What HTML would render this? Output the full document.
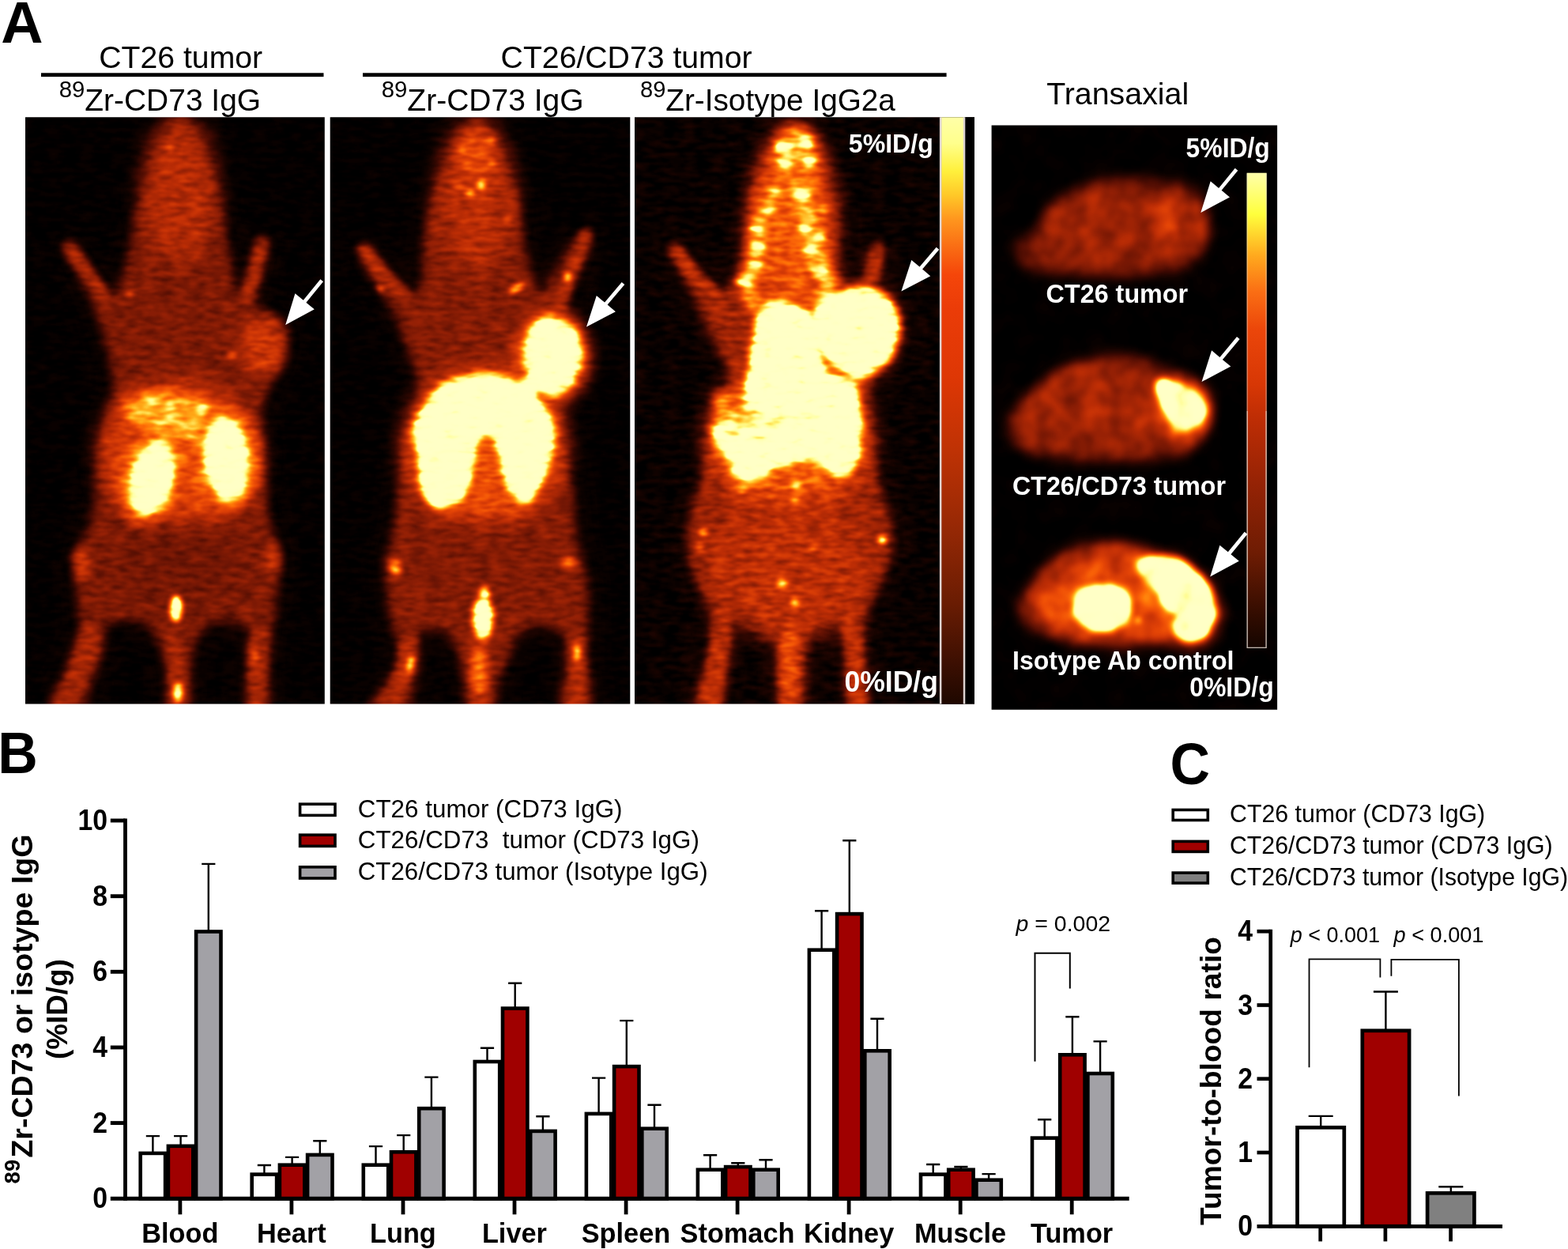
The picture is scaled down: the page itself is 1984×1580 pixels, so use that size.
<!DOCTYPE html>
<html lang="en">
<head>
<meta charset="utf-8">
<title>Figure: 89Zr-CD73 IgG PET imaging and biodistribution</title>
<style>
html,body{margin:0;padding:0;background:#fff;}
body{width:1984px;height:1580px;overflow:hidden;}
svg{display:block;font-family:"Liberation Sans", Arial, Helvetica, sans-serif;}
</style>
</head>
<body>
<svg width="1984" height="1580" viewBox="0 0 1984 1580">
<defs>
<filter id="pet1" x="0" y="0" width="100%" height="100%" color-interpolation-filters="sRGB">
<feTurbulence type="fractalNoise" baseFrequency="0.05 0.16" numOctaves="2" seed="3" result="n"/>
<feColorMatrix in="n" type="matrix" values="1 0 0 0 0 1 0 0 0 0 1 0 0 0 0 0 0 0 0 1" result="ng"/>
<feComposite in="SourceGraphic" in2="ng" operator="arithmetic" k1="0.7" k2="0.65" k3="0.05" k4="-0.02" result="m0"/>
<feGaussianBlur in="m0" stdDeviation="1.3 0.9" result="m"/>
<feComponentTransfer in="m"><feFuncR type="table" tableValues="0 0.113 0.225 0.335 0.443 0.548 0.64 0.732 0.807 0.877 0.937 0.978 1 1 1 1 1 1 1 1 1 1 1 1 1"/><feFuncG type="table" tableValues="0 0.0167 0.0333 0.0575 0.0867 0.116 0.145 0.174 0.213 0.255 0.31 0.385 0.46 0.56 0.66 0.758 0.853 0.94 0.988 1 1 1 1 1 1"/><feFuncB type="table" tableValues="0 0.00417 0.00833 0.0125 0.0167 0.0203 0.0217 0.0231 0.0244 0.0258 0.0272 0.0286 0.03 0.0592 0.0883 0.175 0.3 0.427 0.562 0.672 0.713 0.755 0.766 0.773 0.78"/><feFuncA type="linear" slope="0" intercept="1"/></feComponentTransfer>
</filter>
<filter id="pet2" x="0" y="0" width="100%" height="100%" color-interpolation-filters="sRGB">
<feTurbulence type="fractalNoise" baseFrequency="0.05 0.16" numOctaves="2" seed="11" result="n"/>
<feColorMatrix in="n" type="matrix" values="1 0 0 0 0 1 0 0 0 0 1 0 0 0 0 0 0 0 0 1" result="ng"/>
<feComposite in="SourceGraphic" in2="ng" operator="arithmetic" k1="0.7" k2="0.65" k3="0.05" k4="-0.02" result="m0"/>
<feGaussianBlur in="m0" stdDeviation="1.3 0.9" result="m"/>
<feComponentTransfer in="m"><feFuncR type="table" tableValues="0 0.113 0.225 0.335 0.443 0.548 0.64 0.732 0.807 0.877 0.937 0.978 1 1 1 1 1 1 1 1 1 1 1 1 1"/><feFuncG type="table" tableValues="0 0.0167 0.0333 0.0575 0.0867 0.116 0.145 0.174 0.213 0.255 0.31 0.385 0.46 0.56 0.66 0.758 0.853 0.94 0.988 1 1 1 1 1 1"/><feFuncB type="table" tableValues="0 0.00417 0.00833 0.0125 0.0167 0.0203 0.0217 0.0231 0.0244 0.0258 0.0272 0.0286 0.03 0.0592 0.0883 0.175 0.3 0.427 0.562 0.672 0.713 0.755 0.766 0.773 0.78"/><feFuncA type="linear" slope="0" intercept="1"/></feComponentTransfer>
</filter>
<filter id="pet3" x="0" y="0" width="100%" height="100%" color-interpolation-filters="sRGB">
<feTurbulence type="fractalNoise" baseFrequency="0.05 0.16" numOctaves="2" seed="23" result="n"/>
<feColorMatrix in="n" type="matrix" values="1 0 0 0 0 1 0 0 0 0 1 0 0 0 0 0 0 0 0 1" result="ng"/>
<feComposite in="SourceGraphic" in2="ng" operator="arithmetic" k1="0.7" k2="0.65" k3="0.09" k4="-0.032" result="m0"/>
<feGaussianBlur in="m0" stdDeviation="1.3 0.9" result="m"/>
<feComponentTransfer in="m"><feFuncR type="table" tableValues="0 0.113 0.225 0.335 0.443 0.548 0.64 0.732 0.807 0.877 0.937 0.978 1 1 1 1 1 1 1 1 1 1 1 1 1"/><feFuncG type="table" tableValues="0 0.0167 0.0333 0.0575 0.0867 0.116 0.145 0.174 0.213 0.255 0.31 0.385 0.46 0.56 0.66 0.758 0.853 0.94 0.988 1 1 1 1 1 1"/><feFuncB type="table" tableValues="0 0.00417 0.00833 0.0125 0.0167 0.0203 0.0217 0.0231 0.0244 0.0258 0.0272 0.0286 0.03 0.0592 0.0883 0.175 0.3 0.427 0.562 0.672 0.713 0.755 0.766 0.773 0.78"/><feFuncA type="linear" slope="0" intercept="1"/></feComponentTransfer>
</filter>
<filter id="pet4" x="0" y="0" width="100%" height="100%" color-interpolation-filters="sRGB">
<feTurbulence type="fractalNoise" baseFrequency="0.035 0.035" numOctaves="2" seed="5" result="n"/>
<feColorMatrix in="n" type="matrix" values="1 0 0 0 0 1 0 0 0 0 1 0 0 0 0 0 0 0 0 1" result="ng"/>
<feComposite in="SourceGraphic" in2="ng" operator="arithmetic" k1="0.85" k2="0.6" k3="0.03" k4="-0.012" result="m0"/>
<feGaussianBlur in="m0" stdDeviation="1.5" result="m"/>
<feComponentTransfer in="m"><feFuncR type="table" tableValues="0 0.113 0.225 0.335 0.443 0.548 0.64 0.732 0.807 0.877 0.937 0.978 1 1 1 1 1 1 1 1 1 1 1 1 1"/><feFuncG type="table" tableValues="0 0.0167 0.0333 0.0575 0.0867 0.116 0.145 0.174 0.213 0.255 0.31 0.385 0.46 0.56 0.66 0.758 0.853 0.94 0.988 1 1 1 1 1 1"/><feFuncB type="table" tableValues="0 0.00417 0.00833 0.0125 0.0167 0.0203 0.0217 0.0231 0.0244 0.0258 0.0272 0.0286 0.03 0.0592 0.0883 0.175 0.3 0.427 0.562 0.672 0.713 0.755 0.766 0.773 0.78"/><feFuncA type="linear" slope="0" intercept="1"/></feComponentTransfer>
</filter>
<linearGradient id="cbar" x1="0" y1="0" x2="0" y2="1">
<stop offset="0" stop-color="#ffffa8"/>
<stop offset="0.045" stop-color="#ffff8c"/>
<stop offset="0.092" stop-color="#fff03c"/>
<stop offset="0.133" stop-color="#ffc828"/>
<stop offset="0.174" stop-color="#ff961e"/>
<stop offset="0.22" stop-color="#fa6e14"/>
<stop offset="0.268" stop-color="#f5460a"/>
<stop offset="0.326" stop-color="#eb3c08"/>
<stop offset="0.443" stop-color="#de3705"/>
<stop offset="0.57" stop-color="#be3205"/>
<stop offset="0.7" stop-color="#962805"/>
<stop offset="0.83" stop-color="#691c03"/>
<stop offset="0.93" stop-color="#3c0f02"/>
<stop offset="1" stop-color="#1e0800"/>
</linearGradient>
<linearGradient id="cbar2" x1="0" y1="0" x2="0" y2="1">
<stop offset="0" stop-color="#ffffaa"/>
<stop offset="0.087" stop-color="#ffff3c"/>
<stop offset="0.173" stop-color="#ffaa1e"/>
<stop offset="0.25" stop-color="#fa6e14"/>
<stop offset="0.33" stop-color="#eb460a"/>
<stop offset="0.446" stop-color="#d73705"/>
<stop offset="0.516" stop-color="#be2d05"/>
<stop offset="0.65" stop-color="#962305"/>
<stop offset="0.8" stop-color="#6e1c03"/>
<stop offset="0.93" stop-color="#320c00"/>
<stop offset="1" stop-color="#140500"/>
</linearGradient>
<clipPath id="c1"><rect x="32" y="148.3" width="378.8" height="742.1"/></clipPath>
<clipPath id="c2"><rect x="417.7" y="148.3" width="379.6" height="742.1"/></clipPath>
<clipPath id="c3"><rect x="803" y="148.3" width="430" height="742.1"/></clipPath>
<clipPath id="c4"><rect x="1254.6" y="158.6" width="361.5" height="739.1"/></clipPath>
</defs>
<rect x="0" y="0" width="1984" height="1580" fill="#fff"/>
<g id="panelA">
<text x="1.2" y="53.7" font-size="73.9" font-weight="bold" textLength="53.3" lengthAdjust="spacingAndGlyphs">A</text>
<text x="125.2" y="86" font-size="39" textLength="207" lengthAdjust="spacingAndGlyphs">CT26 tumor</text>
<rect x="52" y="92.3" width="357.5" height="4.8" fill="#000"/>
<text x="633.6" y="86" font-size="39" textLength="318" lengthAdjust="spacingAndGlyphs">CT26/CD73 tumor</text>
<rect x="459" y="92.3" width="738.6" height="4.8" fill="#000"/>
<text x="74.7" y="123.4" font-size="30.4" textLength="32.7" lengthAdjust="spacingAndGlyphs">89</text>
<text x="107.3" y="139.9" font-size="38.5" textLength="222.8" lengthAdjust="spacingAndGlyphs">Zr-CD73 IgG</text>
<text x="482.7" y="123.4" font-size="30.4" textLength="32.7" lengthAdjust="spacingAndGlyphs">89</text>
<text x="515.3" y="139.9" font-size="38.5" textLength="223.4" lengthAdjust="spacingAndGlyphs">Zr-CD73 IgG</text>
<text x="810" y="123.4" font-size="30.4" textLength="32.4" lengthAdjust="spacingAndGlyphs">89</text>
<text x="842.3" y="139.9" font-size="38.5" textLength="290.6" lengthAdjust="spacingAndGlyphs">Zr-Isotype IgG2a</text>
<text x="1324.2" y="132.3" font-size="38.5" textLength="180" lengthAdjust="spacingAndGlyphs">Transaxial</text>
<g clip-path="url(#c1)"><g filter="url(#pet1)">
<rect x="22" y="138" width="400" height="762" fill="#000"/>
<filter id="f1" filterUnits="userSpaceOnUse" x="0" y="88" width="427" height="870" color-interpolation-filters="sRGB"><feGaussianBlur stdDeviation="18"/></filter>
<path d="M227.4,151.5C231.4,153.1 239.2,160.4 243.9,166.8C248.6,173.3 252.4,181.7 255.7,190.4C259,199 260.8,210 263.9,218.6C267.1,227.3 271.8,234.3 274.5,242.2C277.3,250 278.8,257.9 280.4,265.7C282,273.6 282.8,281.4 283.9,289.3C285.1,297.1 286.3,305 287.5,312.8C288.7,320.7 289.6,328.5 291,336.4C292.4,344.2 293.8,353.6 295.7,359.9C297.7,366.2 300,376 302.8,374C305.5,372.1 309.5,356.8 312.2,348.1C314.9,339.5 316.9,329.7 319.3,322.2C321.6,314.8 323.6,306.9 326.3,303.4C329.1,299.9 333.6,299.9 335.7,301C337.9,302.2 339.3,305.4 339.3,310.5C339.3,315.6 337.5,324.2 335.7,331.7C334,339.1 330.8,347.4 328.7,355.2C326.5,363.1 323.2,372.9 322.8,378.8C322.4,384.6 322.6,387.4 326.3,390.5C330.1,393.7 339.7,394.1 345.2,397.6C350.7,401.1 356.2,406.6 359.3,411.7C362.4,416.8 363.8,421.9 364,428.2C364.2,434.5 362.4,442.7 360.5,449.4C358.5,456.1 355.2,462.3 352.2,468.2C349.3,474.1 345.6,479.2 342.8,484.7C340.1,490.2 337.9,494.9 335.7,501.2C333.6,507.5 330.6,512.1 329.9,522.7C329.1,533.4 330.1,550.2 331,565.1C332,580 334.2,596.5 335.7,612.2C337.3,627.9 338.5,647.5 340.5,659.3C342.4,671 345.6,675 347.5,682.8C349.5,690.7 351.4,698.5 352.2,706.4C353,714.2 352.6,722.1 352.2,729.9C351.8,737.8 350.7,745.6 349.9,753.5C349.1,761.3 348.7,769.2 347.5,777C346.3,784.9 344.2,788.8 342.8,800.6C341.4,812.3 340.1,831.9 339.3,847.6C338.5,863.3 342.6,886.9 338.1,894.7C333.6,902.6 316.3,902.6 312.2,894.7C308.1,886.9 313,861.4 313.4,847.6C313.8,833.9 315.1,821.7 314.6,812.3C314,802.9 313.8,795.6 309.8,791.1C305.9,786.6 298.1,785.6 291,785.2C283.9,784.9 274.5,785.4 267.5,788.8C260.4,792.1 252.7,798.6 248.6,805.3C244.5,811.9 244.1,819.8 242.7,828.8C241.4,837.8 241,848.4 240.4,859.4C239.8,870.4 243.7,888.9 239.2,894.7C234.7,900.6 217.8,900.6 213.3,894.7C208.8,888.9 212.9,869.2 212.1,859.4C211.3,849.6 210.4,843.7 208.6,835.9C206.8,828 205.5,820.2 201.5,812.3C197.6,804.5 192.1,793.7 185,788.8C178,783.9 167.4,782.9 159.1,782.9C150.9,782.9 140.5,784.7 135.6,788.8C130.7,792.9 131.7,800.6 129.7,807.6C127.8,814.7 126.4,822.5 123.8,831.2C121.3,839.8 117.6,848.8 114.4,859.4C111.3,870 113.4,888.9 105,894.7C96.6,900.6 68.9,899.4 63.8,894.7C58.7,890 70.7,875.1 74.4,866.5C78.1,857.8 82.6,850.8 86.2,842.9C89.7,835.1 93,826.5 95.6,819.4C98.1,812.3 100.7,807.6 101.5,800.6C102.2,793.5 100.9,784.9 100.3,777C99.7,769.2 98.5,761.3 97.9,753.5C97.3,745.6 97.1,737.8 96.8,729.9C96.4,722.1 94.6,714.2 95.6,706.4C96.6,698.5 99.3,690.7 102.6,682.8C106,675 112.3,671 115.6,659.3C118.9,647.5 120.9,627.9 122.7,612.2C124.4,596.5 124.4,580 126.2,565.1C128,550.2 130.3,534.1 133.2,522.7C136.2,511.3 142.3,504 143.8,496.5C145.4,489 143.5,484.7 142.7,477.6C141.9,470.6 140.7,461.9 139.1,454.1C137.6,446.2 135.4,438.4 133.2,430.6C131.1,422.7 128.5,414.1 126.2,407C123.8,399.9 122.3,395.2 119.1,388.2C116,381.1 111.3,372.5 107.3,364.6C103.4,356.8 99.5,348.1 95.6,341.1C91.6,334 86.4,326.9 83.8,322.2C81.3,317.5 80.1,315.4 80.3,312.8C80.5,310.3 82.4,307.3 85,306.9C87.5,306.5 92.2,307.1 95.6,310.5C98.9,313.8 101.5,320.7 105,326.9C108.5,333.2 112.4,341.5 116.8,348.1C121.1,354.8 126.6,362.7 130.9,367C135.2,371.3 139.1,375.2 142.7,374C146.2,372.9 149.3,366.2 152.1,359.9C154.8,353.6 157,344.2 159.1,336.4C161.3,328.5 163.5,320.7 165,312.8C166.6,305 167.2,297.1 168.6,289.3C169.9,281.4 171.3,273.6 173.3,265.7C175.2,257.9 177.6,250 180.3,242.2C183.1,234.3 186.6,226.5 189.8,218.6C192.9,210.8 195.6,202.9 199.2,195.1C202.7,187.2 207.4,177.8 210.9,171.5C214.5,165.3 217.6,160.8 220.4,157.4C223.1,154.1 223.5,150 227.4,151.5Z" fill="#0d0d0d" filter="url(#f1)"/>
<filter id="f2" filterUnits="userSpaceOnUse" x="36" y="124" width="355" height="798" color-interpolation-filters="sRGB"><feGaussianBlur stdDeviation="6"/></filter>
<path d="M227.4,151.5C231.4,153.1 239.2,160.4 243.9,166.8C248.6,173.3 252.4,181.7 255.7,190.4C259,199 260.8,210 263.9,218.6C267.1,227.3 271.8,234.3 274.5,242.2C277.3,250 278.8,257.9 280.4,265.7C282,273.6 282.8,281.4 283.9,289.3C285.1,297.1 286.3,305 287.5,312.8C288.7,320.7 289.6,328.5 291,336.4C292.4,344.2 293.8,353.6 295.7,359.9C297.7,366.2 300,376 302.8,374C305.5,372.1 309.5,356.8 312.2,348.1C314.9,339.5 316.9,329.7 319.3,322.2C321.6,314.8 323.6,306.9 326.3,303.4C329.1,299.9 333.6,299.9 335.7,301C337.9,302.2 339.3,305.4 339.3,310.5C339.3,315.6 337.5,324.2 335.7,331.7C334,339.1 330.8,347.4 328.7,355.2C326.5,363.1 323.2,372.9 322.8,378.8C322.4,384.6 322.6,387.4 326.3,390.5C330.1,393.7 339.7,394.1 345.2,397.6C350.7,401.1 356.2,406.6 359.3,411.7C362.4,416.8 363.8,421.9 364,428.2C364.2,434.5 362.4,442.7 360.5,449.4C358.5,456.1 355.2,462.3 352.2,468.2C349.3,474.1 345.6,479.2 342.8,484.7C340.1,490.2 337.9,494.9 335.7,501.2C333.6,507.5 330.6,512.1 329.9,522.7C329.1,533.4 330.1,550.2 331,565.1C332,580 334.2,596.5 335.7,612.2C337.3,627.9 338.5,647.5 340.5,659.3C342.4,671 345.6,675 347.5,682.8C349.5,690.7 351.4,698.5 352.2,706.4C353,714.2 352.6,722.1 352.2,729.9C351.8,737.8 350.7,745.6 349.9,753.5C349.1,761.3 348.7,769.2 347.5,777C346.3,784.9 344.2,788.8 342.8,800.6C341.4,812.3 340.1,831.9 339.3,847.6C338.5,863.3 342.6,886.9 338.1,894.7C333.6,902.6 316.3,902.6 312.2,894.7C308.1,886.9 313,861.4 313.4,847.6C313.8,833.9 315.1,821.7 314.6,812.3C314,802.9 313.8,795.6 309.8,791.1C305.9,786.6 298.1,785.6 291,785.2C283.9,784.9 274.5,785.4 267.5,788.8C260.4,792.1 252.7,798.6 248.6,805.3C244.5,811.9 244.1,819.8 242.7,828.8C241.4,837.8 241,848.4 240.4,859.4C239.8,870.4 243.7,888.9 239.2,894.7C234.7,900.6 217.8,900.6 213.3,894.7C208.8,888.9 212.9,869.2 212.1,859.4C211.3,849.6 210.4,843.7 208.6,835.9C206.8,828 205.5,820.2 201.5,812.3C197.6,804.5 192.1,793.7 185,788.8C178,783.9 167.4,782.9 159.1,782.9C150.9,782.9 140.5,784.7 135.6,788.8C130.7,792.9 131.7,800.6 129.7,807.6C127.8,814.7 126.4,822.5 123.8,831.2C121.3,839.8 117.6,848.8 114.4,859.4C111.3,870 113.4,888.9 105,894.7C96.6,900.6 68.9,899.4 63.8,894.7C58.7,890 70.7,875.1 74.4,866.5C78.1,857.8 82.6,850.8 86.2,842.9C89.7,835.1 93,826.5 95.6,819.4C98.1,812.3 100.7,807.6 101.5,800.6C102.2,793.5 100.9,784.9 100.3,777C99.7,769.2 98.5,761.3 97.9,753.5C97.3,745.6 97.1,737.8 96.8,729.9C96.4,722.1 94.6,714.2 95.6,706.4C96.6,698.5 99.3,690.7 102.6,682.8C106,675 112.3,671 115.6,659.3C118.9,647.5 120.9,627.9 122.7,612.2C124.4,596.5 124.4,580 126.2,565.1C128,550.2 130.3,534.1 133.2,522.7C136.2,511.3 142.3,504 143.8,496.5C145.4,489 143.5,484.7 142.7,477.6C141.9,470.6 140.7,461.9 139.1,454.1C137.6,446.2 135.4,438.4 133.2,430.6C131.1,422.7 128.5,414.1 126.2,407C123.8,399.9 122.3,395.2 119.1,388.2C116,381.1 111.3,372.5 107.3,364.6C103.4,356.8 99.5,348.1 95.6,341.1C91.6,334 86.4,326.9 83.8,322.2C81.3,317.5 80.1,315.4 80.3,312.8C80.5,310.3 82.4,307.3 85,306.9C87.5,306.5 92.2,307.1 95.6,310.5C98.9,313.8 101.5,320.7 105,326.9C108.5,333.2 112.4,341.5 116.8,348.1C121.1,354.8 126.6,362.7 130.9,367C135.2,371.3 139.1,375.2 142.7,374C146.2,372.9 149.3,366.2 152.1,359.9C154.8,353.6 157,344.2 159.1,336.4C161.3,328.5 163.5,320.7 165,312.8C166.6,305 167.2,297.1 168.6,289.3C169.9,281.4 171.3,273.6 173.3,265.7C175.2,257.9 177.6,250 180.3,242.2C183.1,234.3 186.6,226.5 189.8,218.6C192.9,210.8 195.6,202.9 199.2,195.1C202.7,187.2 207.4,177.8 210.9,171.5C214.5,165.3 217.6,160.8 220.4,157.4C223.1,154.1 223.5,150 227.4,151.5Z" fill="#2f2f2f" filter="url(#f2)"/>
<filter id="f3" filterUnits="userSpaceOnUse" x="137" y="103" width="180" height="279" color-interpolation-filters="sRGB"><feGaussianBlur stdDeviation="14"/></filter>
<ellipse cx="227.4" cy="242.2" rx="44.7" ry="94.2" fill="#474747" filter="url(#f3)"/>
<filter id="f4" filterUnits="userSpaceOnUse" x="59" y="284" width="103" height="120" color-interpolation-filters="sRGB"><feGaussianBlur stdDeviation="4"/></filter>
<path d="M88.5,314C92,318.9 102.2,333.2 109.7,343.4C117.2,353.6 129.3,369.9 133.2,375.2" fill="none" stroke="#454545" stroke-width="14.1" stroke-linecap="round" filter="url(#f4)"/>
<filter id="f5" filterUnits="userSpaceOnUse" x="285" y="278" width="75" height="124" color-interpolation-filters="sRGB"><feGaussianBlur stdDeviation="4"/></filter>
<path d="M331.5,306.9C330.2,311.8 327,325.2 324,336.4C320.9,347.6 315.1,367.8 313.4,374" fill="none" stroke="#454545" stroke-width="13" stroke-linecap="round" filter="url(#f5)"/>
<filter id="f6" filterUnits="userSpaceOnUse" x="275" y="372" width="111" height="130" color-interpolation-filters="sRGB"><feGaussianBlur stdDeviation="8"/></filter>
<ellipse cx="331" cy="437.6" rx="28.3" ry="37.7" fill="#525252" filter="url(#f6)"/>
<filter id="f7" filterUnits="userSpaceOnUse" x="83" y="437" width="288" height="279" color-interpolation-filters="sRGB"><feGaussianBlur stdDeviation="14"/></filter>
<ellipse cx="227.4" cy="576.9" rx="98.9" ry="94.2" fill="#5c5c5c" filter="url(#f7)"/>
<filter id="f8" filterUnits="userSpaceOnUse" x="127" y="519" width="130" height="172" color-interpolation-filters="sRGB"><feGaussianBlur stdDeviation="8"/></filter>
<ellipse cx="192.1" cy="605.1" rx="37.7" ry="58.9" fill="#808080" transform="rotate(15 192.1 605.1)" filter="url(#f8)"/>
<filter id="f9" filterUnits="userSpaceOnUse" x="219" y="489" width="135" height="182" color-interpolation-filters="sRGB"><feGaussianBlur stdDeviation="8"/></filter>
<ellipse cx="286.3" cy="580.4" rx="40" ry="63.6" fill="#808080" transform="rotate(-4 286.3 580.4)" filter="url(#f9)"/>
<filter id="f10" filterUnits="userSpaceOnUse" x="45" y="763" width="107" height="169" color-interpolation-filters="sRGB"><feGaussianBlur stdDeviation="4"/></filter>
<path d="M114.4,800.6C112.1,808.4 105.6,831.9 100.3,847.6C95,863.3 85.6,886.9 82.6,894.7" fill="none" stroke="#404040" stroke-width="22.4" stroke-linecap="round" filter="url(#f10)"/>
<filter id="f11" filterUnits="userSpaceOnUse" x="290" y="765" width="74" height="165" color-interpolation-filters="sRGB"><feGaussianBlur stdDeviation="4"/></filter>
<path d="M329.2,800.6C328.7,808.4 327,831.9 326.3,847.6C325.7,863.3 325.5,886.9 325.4,894.7" fill="none" stroke="#404040" stroke-width="20" stroke-linecap="round" filter="url(#f11)"/>
<filter id="f12" filterUnits="userSpaceOnUse" x="184" y="771" width="78" height="160" color-interpolation-filters="sRGB"><feGaussianBlur stdDeviation="4"/></filter>
<path d="M220.4,807.6C221,814.3 223,833.1 223.9,847.6C224.8,862.2 225.3,886.9 225.5,894.7" fill="none" stroke="#404040" stroke-width="21.2" stroke-linecap="round" filter="url(#f12)"/>
<filter id="f13" filterUnits="userSpaceOnUse" x="108" y="617" width="234" height="187" color-interpolation-filters="sRGB"><feGaussianBlur stdDeviation="12"/></filter>
<ellipse cx="225.1" cy="711.1" rx="77.7" ry="54.2" fill="#292929" fill-opacity="0.75" filter="url(#f13)"/>
<filter id="f14" filterUnits="userSpaceOnUse" x="72" y="671" width="61" height="85" color-interpolation-filters="sRGB"><feGaussianBlur stdDeviation="6"/></filter>
<ellipse cx="102.6" cy="713.4" rx="9.4" ry="21.2" fill="#575757" filter="url(#f14)"/>
<filter id="f15" filterUnits="userSpaceOnUse" x="314" y="664" width="61" height="85" color-interpolation-filters="sRGB"><feGaussianBlur stdDeviation="6"/></filter>
<ellipse cx="345.2" cy="706.4" rx="9.4" ry="21.2" fill="#525252" filter="url(#f15)"/>
<filter id="f16" filterUnits="userSpaceOnUse" x="70" y="775" width="78" height="111" color-interpolation-filters="sRGB"><feGaussianBlur stdDeviation="8"/></filter>
<ellipse cx="109.7" cy="831.2" rx="11.8" ry="28.3" fill="#424242" transform="rotate(20 109.7 831.2)" filter="url(#f16)"/>
<filter id="f17" filterUnits="userSpaceOnUse" x="295" y="786" width="57" height="99" color-interpolation-filters="sRGB"><feGaussianBlur stdDeviation="6"/></filter>
<ellipse cx="324" cy="835.9" rx="7.1" ry="28.3" fill="#454545" filter="url(#f17)"/>
<filter id="f18" filterUnits="userSpaceOnUse" x="126" y="464" width="168" height="122" color-interpolation-filters="sRGB"><feGaussianBlur stdDeviation="7"/></filter>
<path d="M163.2,500C169.1,497.4 181.8,495.2 192.1,494.7C202.4,494.3 215.1,495.6 225,497.4C234.9,499.1 244.7,501.5 251.3,505.3C257.9,509 263.4,514 264.5,519.7C265.6,525.4 260.1,533.6 257.9,539.5C255.7,545.4 255.7,552.4 251.3,555.3C246.9,558.1 238.2,557.5 231.6,556.6C225,555.7 218.4,552.2 211.8,550C205.3,547.8 198.5,545.2 192.1,543.4C185.7,541.7 179.2,542.3 173.7,539.5C168.2,536.6 162.1,531.1 159.2,526.3C156.4,521.5 155.9,514.9 156.6,510.5C157.2,506.1 157.2,502.6 163.2,500Z" fill="#8f8f8f" filter="url(#f18)"/>
<filter id="f19" filterUnits="userSpaceOnUse" x="165" y="488" width="53" height="39" color-interpolation-filters="sRGB"><feGaussianBlur stdDeviation="4"/></filter>
<ellipse cx="192.1" cy="507.9" rx="11.2" ry="4.2" fill="#c7c7c7" filter="url(#f19)"/>
<filter id="f20" filterUnits="userSpaceOnUse" x="189" y="495" width="50" height="39" color-interpolation-filters="sRGB"><feGaussianBlur stdDeviation="4"/></filter>
<ellipse cx="214.5" cy="514.5" rx="9.9" ry="4.2" fill="#c7c7c7" filter="url(#f20)"/>
<filter id="f21" filterUnits="userSpaceOnUse" x="194" y="507" width="48" height="38" color-interpolation-filters="sRGB"><feGaussianBlur stdDeviation="4"/></filter>
<ellipse cx="218.4" cy="526.3" rx="8.6" ry="3.9" fill="#cccccc" filter="url(#f21)"/>
<filter id="f22" filterUnits="userSpaceOnUse" x="179" y="520" width="53" height="38" color-interpolation-filters="sRGB"><feGaussianBlur stdDeviation="4"/></filter>
<ellipse cx="205.3" cy="539.5" rx="11.2" ry="3.9" fill="#c7c7c7" filter="url(#f22)"/>
<filter id="f23" filterUnits="userSpaceOnUse" x="209" y="519" width="48" height="38" color-interpolation-filters="sRGB"><feGaussianBlur stdDeviation="4"/></filter>
<ellipse cx="232.9" cy="538.2" rx="8.6" ry="3.9" fill="#cccccc" filter="url(#f23)"/>
<filter id="f24" filterUnits="userSpaceOnUse" x="221" y="529" width="46" height="38" color-interpolation-filters="sRGB"><feGaussianBlur stdDeviation="4"/></filter>
<ellipse cx="244.7" cy="548.7" rx="7.9" ry="3.9" fill="#bfbfbf" filter="url(#f24)"/>
<filter id="f25" filterUnits="userSpaceOnUse" x="161" y="507" width="45" height="37" color-interpolation-filters="sRGB"><feGaussianBlur stdDeviation="4"/></filter>
<ellipse cx="184.2" cy="526.3" rx="7.2" ry="3.4" fill="#b8b8b8" filter="url(#f25)"/>
<filter id="f26" filterUnits="userSpaceOnUse" x="232" y="494" width="46" height="44" color-interpolation-filters="sRGB"><feGaussianBlur stdDeviation="4"/></filter>
<ellipse cx="255.3" cy="515.8" rx="7.9" ry="6.6" fill="#d9d9d9" filter="url(#f26)"/>
<filter id="f27" filterUnits="userSpaceOnUse" x="148" y="540" width="87" height="131" color-interpolation-filters="sRGB"><feGaussianBlur stdDeviation="5"/></filter>
<ellipse cx="192.1" cy="605.1" rx="25.4" ry="47.1" fill="#ffffff" transform="rotate(15 192.1 605.1)" filter="url(#f27)"/>
<filter id="f28" filterUnits="userSpaceOnUse" x="240" y="510" width="91" height="141" color-interpolation-filters="sRGB"><feGaussianBlur stdDeviation="5"/></filter>
<ellipse cx="286.3" cy="580.4" rx="27.3" ry="52.3" fill="#ffffff" transform="rotate(-4 286.3 580.4)" filter="url(#f28)"/>
<filter id="f29" filterUnits="userSpaceOnUse" x="203" y="741" width="39" height="57" color-interpolation-filters="sRGB"><feGaussianBlur stdDeviation="3"/></filter>
<ellipse cx="222.7" cy="769.9" rx="7.1" ry="16.5" fill="#ffffff" filter="url(#f29)"/>
<filter id="f30" filterUnits="userSpaceOnUse" x="207" y="850" width="35" height="50" color-interpolation-filters="sRGB"><feGaussianBlur stdDeviation="3"/></filter>
<ellipse cx="225.1" cy="875.9" rx="5.2" ry="13" fill="#e6e6e6" filter="url(#f30)"/>
<filter id="f31" filterUnits="userSpaceOnUse" x="307" y="806" width="30" height="46" color-interpolation-filters="sRGB"><feGaussianBlur stdDeviation="3"/></filter>
<ellipse cx="322.8" cy="828.8" rx="2.8" ry="10.6" fill="#808080" filter="url(#f31)"/>
<filter id="f32" filterUnits="userSpaceOnUse" x="198" y="173" width="35" height="30" color-interpolation-filters="sRGB"><feGaussianBlur stdDeviation="3"/></filter>
<ellipse cx="215.7" cy="188" rx="5.2" ry="2.8" fill="#808080" filter="url(#f32)"/>
<filter id="f33" filterUnits="userSpaceOnUse" x="189" y="202" width="43" height="28" color-interpolation-filters="sRGB"><feGaussianBlur stdDeviation="3"/></filter>
<ellipse cx="210.9" cy="216.3" rx="9.4" ry="1.9" fill="#6b6b6b" filter="url(#f33)"/>
<filter id="f34" filterUnits="userSpaceOnUse" x="146" y="356" width="35" height="30" color-interpolation-filters="sRGB"><feGaussianBlur stdDeviation="3"/></filter>
<ellipse cx="163.9" cy="371.7" rx="5.2" ry="2.8" fill="#808080" filter="url(#f34)"/>
<filter id="f35" filterUnits="userSpaceOnUse" x="275" y="434" width="36" height="30" color-interpolation-filters="sRGB"><feGaussianBlur stdDeviation="3"/></filter>
<ellipse cx="293.4" cy="449.4" rx="5.9" ry="2.8" fill="#8c8c8c" filter="url(#f35)"/>
</g></g>
<g clip-path="url(#c2)"><g filter="url(#pet2)">
<rect x="408" y="138" width="400" height="762" fill="#000"/>
<filter id="f36" filterUnits="userSpaceOnUse" x="390" y="90" width="421" height="867" color-interpolation-filters="sRGB"><feGaussianBlur stdDeviation="18"/></filter>
<path d="M604,153.9C607.9,155.1 614.2,159.6 618.1,164.5C622.1,169.4 624.4,176.3 627.6,183.3C630.7,190.4 634,200.2 637,206.9C639.9,213.5 642.5,217.5 645.2,223.3C648,229.2 651.3,235.1 653.5,242.2C655.6,249.2 657,257.9 658.2,265.7C659.3,273.6 659.7,281.4 660.5,289.3C661.3,297.1 661.7,305 662.9,312.8C664.1,320.7 665.6,329.3 667.6,336.4C669.6,343.4 671.9,349.3 674.7,355.2C677.4,361.1 680.1,372.5 684.1,371.7C688,370.9 693.5,358 698.2,350.5C702.9,343 707.6,334.4 712.3,326.9C717,319.5 721.7,311.6 726.5,305.8C731.2,299.9 737,292.8 740.6,291.6C744.1,290.5 746.9,295.2 747.6,298.7C748.4,302.2 747.3,306.5 745.3,312.8C743.3,319.1 739.4,328.5 735.9,336.4C732.3,344.2 727.2,352.5 724.1,359.9C721,367.4 718.6,375.2 717,381.1C715.5,387 712.3,389.7 714.7,395.2C717,400.7 727,407 731.2,414.1C735.3,421.1 738,429.8 739.4,437.6C740.8,445.5 741,453.3 739.4,461.2C737.8,469 733.7,478 730,484.7C726.3,491.4 721.2,496.1 717,501.2C712.9,506.3 706.8,510.2 705.3,515.3C703.7,520.5 706.4,523.8 707.6,532.1C708.8,540.4 710,551.7 712.3,565.1C714.7,578.4 719.4,596.5 721.7,612.2C724.1,627.9 725.3,647.5 726.5,659.3C727.6,671 727.2,675 728.8,682.8C730.4,690.7 733.9,698.5 735.9,706.4C737.8,714.2 739.4,722.1 740.6,729.9C741.8,737.8 742.5,745.6 742.9,753.5C743.3,761.3 742.9,769.2 742.9,777C742.9,784.9 743.1,792.7 742.9,800.6C742.7,808.4 741.8,816.2 741.8,824.1C741.8,831.9 742,835.9 742.9,847.6C743.9,859.4 753.1,886.9 747.6,894.7C742.2,902.6 715.1,902.6 710,894.7C704.9,886.9 715.9,859.4 717,847.6C718.2,835.9 717.8,831.9 717,824.1C716.2,816.2 717,806 712.3,800.6C707.6,795.1 696.6,792.3 688.8,791.1C680.9,790 671.9,789.6 665.2,793.5C658.6,797.4 652.7,807.6 648.8,814.7C644.8,821.7 644.8,828.4 641.7,835.9C638.5,843.3 632.7,849.6 629.9,859.4C627.2,869.2 631.5,888.9 625.2,894.7C618.9,900.6 598.5,900.6 592.2,894.7C586,888.9 589.1,869.2 587.5,859.4C586,849.6 584.8,843.3 582.8,835.9C580.9,828.4 578.9,821 575.8,814.7C572.6,808.4 569.1,801.5 564,798.2C558.9,794.9 551,794.3 545.1,794.7C539.3,795.1 531.6,795.6 528.7,800.6C525.7,805.5 527.5,816.2 527.5,824.1C527.5,831.9 529.6,839.8 528.7,847.6C527.7,855.5 524,863.3 521.6,871.2C519.2,879 523.4,890.8 514.5,894.7C505.7,898.7 473.7,898.7 468.6,894.7C463.5,890.8 478.6,879 483.9,871.2C489.2,863.3 496.7,855.5 500.4,847.6C504.1,839.8 506.3,831.9 506.3,824.1C506.3,816.2 502.6,808.4 500.4,800.6C498.3,792.7 494.9,784.9 493.3,777C491.8,769.2 491.8,761.3 491,753.5C490.2,745.6 489,737.8 488.6,729.9C488.2,722.1 487.5,714.2 488.6,706.4C489.8,698.5 493.7,690.7 495.7,682.8C497.7,675 498.8,671 500.4,659.3C502,647.5 503.2,627.9 505.1,612.2C507.1,596.5 509,580.8 512.2,565.1C515.3,549.4 520.8,528.7 524,518C527.1,507.3 530.2,507.9 531,501.2C531.8,494.5 530.2,485.5 528.7,477.6C527.1,469.8 524.3,461.9 521.6,454.1C518.9,446.2 514.9,438.4 512.2,430.6C509.4,422.7 507.9,414.1 505.1,407C502.4,399.9 499.2,394.4 495.7,388.2C492.2,381.9 488.2,376 483.9,369.3C479.6,362.7 474.1,354.8 469.8,348.1C465.5,341.5 460.8,334.4 458,329.3C455.3,324.2 453.3,320.7 453.3,317.5C453.3,314.4 455.3,310.9 458,310.5C460.8,310.1 465.5,311.3 469.8,315.2C474.1,319.1 479.2,327.3 483.9,334C488.6,340.7 493.3,348.9 498.1,355.2C502.8,361.5 507.9,367.8 512.2,371.7C516.5,375.6 520.4,380.7 524,378.8C527.5,376.8 531.4,367 533.4,359.9C535.3,352.9 535.3,344.2 535.7,336.4C536.1,328.5 535.3,320.7 535.7,312.8C536.1,305 536.9,297.1 538.1,289.3C539.3,281.4 540.8,273.6 542.8,265.7C544.8,257.9 547.1,250 549.9,242.2C552.6,234.3 555.7,226.1 559.3,218.6C562.8,211.2 567.1,204.9 571,197.4C575,190 578.9,180.6 582.8,173.9C586.7,167.2 591.1,160.8 594.6,157.4C598.1,154.1 600.1,152.7 604,153.9Z" fill="#0f0f0f" filter="url(#f36)"/>
<filter id="f37" filterUnits="userSpaceOnUse" x="426" y="126" width="349" height="795" color-interpolation-filters="sRGB"><feGaussianBlur stdDeviation="6"/></filter>
<path d="M604,153.9C607.9,155.1 614.2,159.6 618.1,164.5C622.1,169.4 624.4,176.3 627.6,183.3C630.7,190.4 634,200.2 637,206.9C639.9,213.5 642.5,217.5 645.2,223.3C648,229.2 651.3,235.1 653.5,242.2C655.6,249.2 657,257.9 658.2,265.7C659.3,273.6 659.7,281.4 660.5,289.3C661.3,297.1 661.7,305 662.9,312.8C664.1,320.7 665.6,329.3 667.6,336.4C669.6,343.4 671.9,349.3 674.7,355.2C677.4,361.1 680.1,372.5 684.1,371.7C688,370.9 693.5,358 698.2,350.5C702.9,343 707.6,334.4 712.3,326.9C717,319.5 721.7,311.6 726.5,305.8C731.2,299.9 737,292.8 740.6,291.6C744.1,290.5 746.9,295.2 747.6,298.7C748.4,302.2 747.3,306.5 745.3,312.8C743.3,319.1 739.4,328.5 735.9,336.4C732.3,344.2 727.2,352.5 724.1,359.9C721,367.4 718.6,375.2 717,381.1C715.5,387 712.3,389.7 714.7,395.2C717,400.7 727,407 731.2,414.1C735.3,421.1 738,429.8 739.4,437.6C740.8,445.5 741,453.3 739.4,461.2C737.8,469 733.7,478 730,484.7C726.3,491.4 721.2,496.1 717,501.2C712.9,506.3 706.8,510.2 705.3,515.3C703.7,520.5 706.4,523.8 707.6,532.1C708.8,540.4 710,551.7 712.3,565.1C714.7,578.4 719.4,596.5 721.7,612.2C724.1,627.9 725.3,647.5 726.5,659.3C727.6,671 727.2,675 728.8,682.8C730.4,690.7 733.9,698.5 735.9,706.4C737.8,714.2 739.4,722.1 740.6,729.9C741.8,737.8 742.5,745.6 742.9,753.5C743.3,761.3 742.9,769.2 742.9,777C742.9,784.9 743.1,792.7 742.9,800.6C742.7,808.4 741.8,816.2 741.8,824.1C741.8,831.9 742,835.9 742.9,847.6C743.9,859.4 753.1,886.9 747.6,894.7C742.2,902.6 715.1,902.6 710,894.7C704.9,886.9 715.9,859.4 717,847.6C718.2,835.9 717.8,831.9 717,824.1C716.2,816.2 717,806 712.3,800.6C707.6,795.1 696.6,792.3 688.8,791.1C680.9,790 671.9,789.6 665.2,793.5C658.6,797.4 652.7,807.6 648.8,814.7C644.8,821.7 644.8,828.4 641.7,835.9C638.5,843.3 632.7,849.6 629.9,859.4C627.2,869.2 631.5,888.9 625.2,894.7C618.9,900.6 598.5,900.6 592.2,894.7C586,888.9 589.1,869.2 587.5,859.4C586,849.6 584.8,843.3 582.8,835.9C580.9,828.4 578.9,821 575.8,814.7C572.6,808.4 569.1,801.5 564,798.2C558.9,794.9 551,794.3 545.1,794.7C539.3,795.1 531.6,795.6 528.7,800.6C525.7,805.5 527.5,816.2 527.5,824.1C527.5,831.9 529.6,839.8 528.7,847.6C527.7,855.5 524,863.3 521.6,871.2C519.2,879 523.4,890.8 514.5,894.7C505.7,898.7 473.7,898.7 468.6,894.7C463.5,890.8 478.6,879 483.9,871.2C489.2,863.3 496.7,855.5 500.4,847.6C504.1,839.8 506.3,831.9 506.3,824.1C506.3,816.2 502.6,808.4 500.4,800.6C498.3,792.7 494.9,784.9 493.3,777C491.8,769.2 491.8,761.3 491,753.5C490.2,745.6 489,737.8 488.6,729.9C488.2,722.1 487.5,714.2 488.6,706.4C489.8,698.5 493.7,690.7 495.7,682.8C497.7,675 498.8,671 500.4,659.3C502,647.5 503.2,627.9 505.1,612.2C507.1,596.5 509,580.8 512.2,565.1C515.3,549.4 520.8,528.7 524,518C527.1,507.3 530.2,507.9 531,501.2C531.8,494.5 530.2,485.5 528.7,477.6C527.1,469.8 524.3,461.9 521.6,454.1C518.9,446.2 514.9,438.4 512.2,430.6C509.4,422.7 507.9,414.1 505.1,407C502.4,399.9 499.2,394.4 495.7,388.2C492.2,381.9 488.2,376 483.9,369.3C479.6,362.7 474.1,354.8 469.8,348.1C465.5,341.5 460.8,334.4 458,329.3C455.3,324.2 453.3,320.7 453.3,317.5C453.3,314.4 455.3,310.9 458,310.5C460.8,310.1 465.5,311.3 469.8,315.2C474.1,319.1 479.2,327.3 483.9,334C488.6,340.7 493.3,348.9 498.1,355.2C502.8,361.5 507.9,367.8 512.2,371.7C516.5,375.6 520.4,380.7 524,378.8C527.5,376.8 531.4,367 533.4,359.9C535.3,352.9 535.3,344.2 535.7,336.4C536.1,328.5 535.3,320.7 535.7,312.8C536.1,305 536.9,297.1 538.1,289.3C539.3,281.4 540.8,273.6 542.8,265.7C544.8,257.9 547.1,250 549.9,242.2C552.6,234.3 555.7,226.1 559.3,218.6C562.8,211.2 567.1,204.9 571,197.4C575,190 578.9,180.6 582.8,173.9C586.7,167.2 591.1,160.8 594.6,157.4C598.1,154.1 600.1,152.7 604,153.9Z" fill="#323232" filter="url(#f37)"/>
<filter id="f38" filterUnits="userSpaceOnUse" x="511" y="107" width="180" height="279" color-interpolation-filters="sRGB"><feGaussianBlur stdDeviation="14"/></filter>
<ellipse cx="601.7" cy="246.9" rx="44.7" ry="94.2" fill="#4a4a4a" filter="url(#f38)"/>
<filter id="f39" filterUnits="userSpaceOnUse" x="431" y="287" width="113" height="118" color-interpolation-filters="sRGB"><feGaussianBlur stdDeviation="4"/></filter>
<path d="M460.4,316.4C464.7,321.7 477.3,338.3 486.3,348.1C495.3,358 509.8,370.7 514.5,375.2" fill="none" stroke="#4a4a4a" stroke-width="14.1" stroke-linecap="round" filter="url(#f39)"/>
<filter id="f40" filterUnits="userSpaceOnUse" x="680" y="269" width="89" height="142" color-interpolation-filters="sRGB"><feGaussianBlur stdDeviation="4"/></filter>
<path d="M741.8,297.5C739.2,303.6 731.9,319.7 726.5,334C721,348.3 711.7,375.2 708.8,383.5" fill="none" stroke="#4a4a4a" stroke-width="13" stroke-linecap="round" filter="url(#f40)"/>
<filter id="f41" filterUnits="userSpaceOnUse" x="467" y="421" width="293" height="288" color-interpolation-filters="sRGB"><feGaussianBlur stdDeviation="14"/></filter>
<ellipse cx="613.4" cy="565.1" rx="101.2" ry="98.9" fill="#666666" filter="url(#f41)"/>
<filter id="f42" filterUnits="userSpaceOnUse" x="618" y="359" width="161" height="184" color-interpolation-filters="sRGB"><feGaussianBlur stdDeviation="10"/></filter>
<ellipse cx="698.2" cy="451.7" rx="47.1" ry="58.9" fill="#666666" filter="url(#f42)"/>
<filter id="f43" filterUnits="userSpaceOnUse" x="496" y="620" width="234" height="173" color-interpolation-filters="sRGB"><feGaussianBlur stdDeviation="12"/></filter>
<ellipse cx="613.4" cy="706.4" rx="77.7" ry="47.1" fill="#303030" fill-opacity="0.6" filter="url(#f43)"/>
<filter id="f44" filterUnits="userSpaceOnUse" x="452" y="776" width="101" height="155" color-interpolation-filters="sRGB"><feGaussianBlur stdDeviation="4"/></filter>
<path d="M516.9,812.3C516.1,818.2 516.9,833.9 512.2,847.6C507.5,861.4 492.6,886.9 488.6,894.7" fill="none" stroke="#454545" stroke-width="21.2" stroke-linecap="round" filter="url(#f44)"/>
<filter id="f45" filterUnits="userSpaceOnUse" x="694" y="777" width="72" height="153" color-interpolation-filters="sRGB"><feGaussianBlur stdDeviation="4"/></filter>
<path d="M729.3,812.3C729.6,818.2 731.2,833.9 731.2,847.6C731.2,861.4 729.6,886.9 729.3,894.7" fill="none" stroke="#454545" stroke-width="20" stroke-linecap="round" filter="url(#f45)"/>
<filter id="f46" filterUnits="userSpaceOnUse" x="567" y="776" width="79" height="158" color-interpolation-filters="sRGB"><feGaussianBlur stdDeviation="4"/></filter>
<path d="M606.4,814.7C606.6,820.2 607.3,834.3 607.5,847.6C607.7,861 607.5,886.9 607.5,894.7" fill="none" stroke="#454545" stroke-width="23.5" stroke-linecap="round" filter="url(#f46)"/>
<filter id="f47" filterUnits="userSpaceOnUse" x="497" y="449" width="227" height="218" color-interpolation-filters="sRGB"><feGaussianBlur stdDeviation="5"/></filter>
<path d="M568.7,482.7C577.7,479.5 594.2,474 606.4,473.3C618.5,472.5 631.9,474.8 641.7,478C651.5,481.1 658.2,487 665.2,492.1C672.3,497.2 678.6,501.9 684.1,508.6C689.6,515.3 695.5,523.5 698.2,532.1C700.9,540.8 701.3,551 700.6,560.4C699.8,569.8 696.6,579.2 693.5,588.6C690.3,598.1 686.4,609 681.7,616.9C677,624.7 670.3,633.4 665.2,635.7C660.1,638.1 655.4,635.7 651.1,631C646.8,626.3 642.5,616.1 639.3,607.5C636.2,598.8 634.6,587.9 632.3,579.2C629.9,570.6 628.3,560.8 625.2,555.7C622.1,550.6 617,548.2 613.4,548.6C609.9,549 606.4,552.1 604,558C601.7,563.9 601.3,574.9 599.3,583.9C597.3,593 595.8,603.6 592.2,612.2C588.7,620.8 584.4,630.6 578.1,635.7C571.8,640.8 561.2,644 554.6,642.8C547.9,641.6 542,635.7 538.1,628.7C534.2,621.6 532.6,611 531,600.4C529.5,589.8 530.2,572.9 528.7,565.1C527.1,557.2 522,558.8 521.6,553.3C521.2,547.8 523.2,539.6 526.3,532.1C529.5,524.7 536.1,515.3 540.4,508.6C544.8,501.9 547.5,496.4 552.2,492.1C556.9,487.8 559.7,485.8 568.7,482.7Z" fill="#ffffff" filter="url(#f47)"/>
<filter id="f48" filterUnits="userSpaceOnUse" x="638" y="378" width="121" height="145" color-interpolation-filters="sRGB"><feGaussianBlur stdDeviation="5"/></filter>
<path d="M688.8,402.3C694.3,400.9 701.3,400.7 707.6,403.5C713.9,406.2 721.7,412.3 726.5,418.8C731.2,425.3 734.7,434.5 735.9,442.3C737,450.2 735.9,458.4 733.5,465.9C731.2,473.3 726.8,481.6 721.7,487.1C716.6,492.6 709.2,497.3 702.9,498.8C696.6,500.4 689.6,500 684.1,496.5C678.6,492.9 673.5,484.7 669.9,477.6C666.4,470.6 663.7,461.9 662.9,454.1C662.1,446.2 663.3,437.6 665.2,430.6C667.2,423.5 670.7,416.4 674.7,411.7C678.6,407 683.3,403.7 688.8,402.3Z" fill="#ffffff" filter="url(#f48)"/>
<filter id="f49" filterUnits="userSpaceOnUse" x="635" y="462" width="65" height="55" color-interpolation-filters="sRGB"><feGaussianBlur stdDeviation="5"/></filter>
<ellipse cx="667.6" cy="489.7" rx="14.1" ry="9.4" fill="#ffffff" filter="url(#f49)"/>
<filter id="f50" filterUnits="userSpaceOnUse" x="583" y="739" width="55" height="85" color-interpolation-filters="sRGB"><feGaussianBlur stdDeviation="4"/></filter>
<ellipse cx="611.1" cy="781.7" rx="12.2" ry="27.1" fill="#ffffff" filter="url(#f50)"/>
<filter id="f51" filterUnits="userSpaceOnUse" x="595" y="730" width="36" height="39" color-interpolation-filters="sRGB"><feGaussianBlur stdDeviation="3"/></filter>
<ellipse cx="613.4" cy="749.9" rx="5.9" ry="7.1" fill="#d9d9d9" filter="url(#f51)"/>
<filter id="f52" filterUnits="userSpaceOnUse" x="578" y="799" width="55" height="98" color-interpolation-filters="sRGB"><feGaussianBlur stdDeviation="5"/></filter>
<ellipse cx="606.4" cy="847.6" rx="9.4" ry="30.6" fill="#808080" filter="url(#f52)"/>
<filter id="f53" filterUnits="userSpaceOnUse" x="479" y="693" width="42" height="49" color-interpolation-filters="sRGB"><feGaussianBlur stdDeviation="4"/></filter>
<ellipse cx="500.4" cy="718.1" rx="5.9" ry="9.4" fill="#bfbfbf" filter="url(#f53)"/>
<filter id="f54" filterUnits="userSpaceOnUse" x="694" y="691" width="49" height="40" color-interpolation-filters="sRGB"><feGaussianBlur stdDeviation="4"/></filter>
<ellipse cx="719.4" cy="711.1" rx="9.4" ry="4.7" fill="#b2b2b2" filter="url(#f54)"/>
<filter id="f55" filterUnits="userSpaceOnUse" x="503" y="817" width="31" height="46" color-interpolation-filters="sRGB"><feGaussianBlur stdDeviation="3"/></filter>
<ellipse cx="519.2" cy="840.6" rx="3.3" ry="10.6" fill="#e6e6e6" transform="rotate(10 519.2 840.6)" filter="url(#f55)"/>
<filter id="f56" filterUnits="userSpaceOnUse" x="714" y="803" width="31" height="46" color-interpolation-filters="sRGB"><feGaussianBlur stdDeviation="3"/></filter>
<ellipse cx="730" cy="826.5" rx="3.3" ry="10.6" fill="#d9d9d9" filter="url(#f56)"/>
<filter id="f57" filterUnits="userSpaceOnUse" x="570" y="173" width="35" height="34" color-interpolation-filters="sRGB"><feGaussianBlur stdDeviation="3"/></filter>
<ellipse cx="587.5" cy="190.4" rx="5.2" ry="4.7" fill="#e6e6e6" filter="url(#f57)"/>
<filter id="f58" filterUnits="userSpaceOnUse" x="604" y="163" width="33" height="32" color-interpolation-filters="sRGB"><feGaussianBlur stdDeviation="3"/></filter>
<ellipse cx="620.5" cy="178.6" rx="4.2" ry="3.5" fill="#cccccc" filter="url(#f58)"/>
<filter id="f59" filterUnits="userSpaceOnUse" x="573" y="192" width="38" height="30" color-interpolation-filters="sRGB"><feGaussianBlur stdDeviation="3"/></filter>
<ellipse cx="592.2" cy="206.9" rx="6.6" ry="2.8" fill="#d9d9d9" filter="url(#f59)"/>
<filter id="f60" filterUnits="userSpaceOnUse" x="601" y="192" width="38" height="30" color-interpolation-filters="sRGB"><feGaussianBlur stdDeviation="3"/></filter>
<ellipse cx="620.5" cy="206.9" rx="6.6" ry="2.8" fill="#cccccc" filter="url(#f60)"/>
<filter id="f61" filterUnits="userSpaceOnUse" x="592" y="214" width="34" height="36" color-interpolation-filters="sRGB"><feGaussianBlur stdDeviation="3"/></filter>
<ellipse cx="608.7" cy="232.8" rx="4.7" ry="5.9" fill="#f2f2f2" filter="url(#f61)"/>
<filter id="f62" filterUnits="userSpaceOnUse" x="577" y="229" width="35" height="32" color-interpolation-filters="sRGB"><feGaussianBlur stdDeviation="3"/></filter>
<ellipse cx="594.6" cy="244.5" rx="5.2" ry="3.5" fill="#d9d9d9" filter="url(#f62)"/>
<filter id="f63" filterUnits="userSpaceOnUse" x="561" y="221" width="39" height="28" color-interpolation-filters="sRGB"><feGaussianBlur stdDeviation="3"/></filter>
<ellipse cx="580.5" cy="235.1" rx="7.1" ry="1.9" fill="#b2b2b2" filter="url(#f63)"/>
<filter id="f64" filterUnits="userSpaceOnUse" x="626" y="262" width="30" height="30" color-interpolation-filters="sRGB"><feGaussianBlur stdDeviation="3"/></filter>
<ellipse cx="641.7" cy="277.5" rx="2.8" ry="2.8" fill="#a6a6a6" filter="url(#f64)"/>
<filter id="f65" filterUnits="userSpaceOnUse" x="702" y="333" width="32" height="34" color-interpolation-filters="sRGB"><feGaussianBlur stdDeviation="3"/></filter>
<ellipse cx="718.2" cy="350.5" rx="3.8" ry="4.7" fill="#f2f2f2" filter="url(#f65)"/>
<filter id="f66" filterUnits="userSpaceOnUse" x="630" y="349" width="46" height="31" color-interpolation-filters="sRGB"><feGaussianBlur stdDeviation="3"/></filter>
<ellipse cx="653.5" cy="364.6" rx="10.6" ry="3.1" fill="#cccccc" transform="rotate(-30 653.5 364.6)" filter="url(#f66)"/>
<filter id="f67" filterUnits="userSpaceOnUse" x="467" y="346" width="29" height="36" color-interpolation-filters="sRGB"><feGaussianBlur stdDeviation="3"/></filter>
<ellipse cx="481.6" cy="364.6" rx="2.4" ry="5.9" fill="#999999" transform="rotate(-30 481.6 364.6)" filter="url(#f67)"/>
<filter id="f68" filterUnits="userSpaceOnUse" x="551" y="137" width="102" height="116" color-interpolation-filters="sRGB"><feGaussianBlur stdDeviation="8"/></filter>
<ellipse cx="601.7" cy="195.1" rx="23.5" ry="30.6" fill="#616161" filter="url(#f68)"/>
</g></g>
<g clip-path="url(#c3)">
<g filter="url(#pet3)">
<rect x="793" y="138" width="450" height="762" fill="#000"/>
<filter id="f69" filterUnits="userSpaceOnUse" x="785" y="97" width="420" height="860" color-interpolation-filters="sRGB"><feGaussianBlur stdDeviation="18"/></filter>
<path d="M1007.9,161C1011.8,161.7 1018.1,164.7 1022,169.2C1025.9,173.7 1028.6,181.4 1031.4,188C1034.1,194.7 1036.1,202.5 1038.5,209.2C1040.8,215.9 1043.2,221.8 1045.5,228.1C1047.9,234.3 1050.6,239.8 1052.6,246.9C1054.6,254 1056.3,262.6 1057.3,270.4C1058.3,278.3 1058.3,286.1 1058.5,294C1058.7,301.8 1058.1,309.7 1058.5,317.5C1058.9,325.4 1058.7,334 1060.8,341.1C1063,348.1 1066.1,358.3 1071.4,359.9C1076.7,361.5 1088.3,356 1092.6,350.5C1096.9,345 1095.4,333.2 1097.3,326.9C1099.3,320.7 1101.6,315.6 1104.4,312.8C1107.1,310.1 1111.6,309.3 1113.8,310.5C1116,311.6 1117.3,314.8 1117.3,319.9C1117.3,325 1114.8,334.4 1113.8,341.1C1112.8,347.7 1109.1,354.4 1111.5,359.9C1113.8,365.4 1123.2,368.2 1127.9,374C1132.6,379.9 1137.4,387.8 1139.7,395.2C1142.1,402.7 1142.5,410.9 1142.1,418.8C1141.7,426.6 1140.1,434.9 1137.4,442.3C1134.6,449.8 1130.3,457.6 1125.6,463.5C1120.9,469.4 1113.4,472.2 1109.1,477.6C1104.8,483.1 1101.6,490.2 1099.7,496.5C1097.7,502.8 1097.5,509.4 1097.3,515.3C1097.1,521.3 1097.3,523.8 1098.5,532.1C1099.7,540.4 1102.2,551.7 1104.4,565.1C1106.5,578.4 1109.1,600.4 1111.5,612.2C1113.8,624 1116.2,627.9 1118.5,635.7C1120.9,643.6 1124,651.4 1125.6,659.3C1127.2,667.1 1127.9,675 1127.9,682.8C1127.9,690.7 1127.5,698.5 1125.6,706.4C1123.6,714.2 1119.7,722.1 1116.2,729.9C1112.6,737.8 1107.9,745.6 1104.4,753.5C1100.9,761.3 1096.9,765.2 1095,777C1093,788.8 1092.2,804.5 1092.6,824.1C1093,843.7 1100.5,883 1097.3,894.7C1094.2,906.5 1078.5,906.5 1073.8,894.7C1069.1,883 1071.4,842.9 1069.1,824.1C1066.7,805.3 1063.2,790.3 1059.7,781.7C1056.1,773.1 1051.8,773.5 1047.9,772.3C1044,771.1 1039.6,770.7 1036.1,774.7C1032.6,778.6 1029.4,787.6 1026.7,795.8C1023.9,804.1 1021.6,807.6 1019.6,824.1C1017.7,840.6 1020.4,883 1014.9,894.7C1009.4,906.5 991.8,906.5 986.7,894.7C981.6,883 985.9,840.6 984.3,824.1C982.7,807.6 981.9,804.1 977.2,795.8C972.5,787.6 963.1,779.8 956,774.7C949,769.6 940,766.4 934.9,765.2C929.8,764.1 927.4,763.7 925.4,767.6C923.5,771.5 923.5,779.4 923.1,788.8C922.7,798.2 925,806.4 923.1,824.1C921.1,841.8 918.4,883 911.3,894.7C904.2,906.5 883.1,906.5 880.7,894.7C878.3,883 893.7,843.7 897.2,824.1C900.7,804.5 902.7,788.8 901.9,777C901.1,765.2 896,761.3 892.5,753.5C888.9,745.6 883.8,737.8 880.7,729.9C877.6,722.1 875.2,714.2 873.6,706.4C872.1,698.5 871.3,690.7 871.3,682.8C871.3,675 872.5,667.1 873.6,659.3C874.8,651.4 876,643.6 878.3,635.7C880.7,627.9 884.6,624 887.8,612.2C890.9,600.4 894.4,580.8 897.2,565.1C899.9,549.4 898.8,528.7 904.2,518C909.7,507.3 926.6,507.9 930.1,501.2C933.7,494.5 927.8,485.5 925.4,477.6C923.1,469.8 919.6,461.9 916,454.1C912.5,446.2 908.2,438.4 904.2,430.6C900.3,422.7 896,414.9 892.5,407C888.9,399.2 886.6,391.3 883.1,383.5C879.5,375.6 875.6,367.8 871.3,359.9C867,352.1 860.9,343 857.2,336.4C853.4,329.7 850.1,323.8 848.9,319.9C847.7,316 848.3,314 850.1,312.8C851.9,311.6 856,310.1 859.5,312.8C863,315.6 867,323 871.3,329.3C875.6,335.6 880.3,344.2 885.4,350.5C890.5,356.8 896.8,363.8 901.9,367C907,370.1 911.7,371.3 916,369.3C920.3,367.4 924.7,360.7 927.8,355.2C930.9,349.7 932.9,343.4 934.9,336.4C936.8,329.3 938.4,320.7 939.6,312.8C940.7,305 940.7,297.1 941.9,289.3C943.1,281.4 944.7,273.6 946.6,265.7C948.6,257.9 950.9,250 953.7,242.2C956.4,234.3 959.6,226.1 963.1,218.6C966.6,211.2 971,204.5 974.9,197.4C978.8,190.4 982.7,181.7 986.7,176.3C990.6,170.8 994.9,167 998.4,164.5C1002,161.9 1003.9,160.2 1007.9,161Z" fill="#121212" filter="url(#f69)"/>
<filter id="f70" filterUnits="userSpaceOnUse" x="821" y="133" width="348" height="788" color-interpolation-filters="sRGB"><feGaussianBlur stdDeviation="6"/></filter>
<path d="M1007.9,161C1011.8,161.7 1018.1,164.7 1022,169.2C1025.9,173.7 1028.6,181.4 1031.4,188C1034.1,194.7 1036.1,202.5 1038.5,209.2C1040.8,215.9 1043.2,221.8 1045.5,228.1C1047.9,234.3 1050.6,239.8 1052.6,246.9C1054.6,254 1056.3,262.6 1057.3,270.4C1058.3,278.3 1058.3,286.1 1058.5,294C1058.7,301.8 1058.1,309.7 1058.5,317.5C1058.9,325.4 1058.7,334 1060.8,341.1C1063,348.1 1066.1,358.3 1071.4,359.9C1076.7,361.5 1088.3,356 1092.6,350.5C1096.9,345 1095.4,333.2 1097.3,326.9C1099.3,320.7 1101.6,315.6 1104.4,312.8C1107.1,310.1 1111.6,309.3 1113.8,310.5C1116,311.6 1117.3,314.8 1117.3,319.9C1117.3,325 1114.8,334.4 1113.8,341.1C1112.8,347.7 1109.1,354.4 1111.5,359.9C1113.8,365.4 1123.2,368.2 1127.9,374C1132.6,379.9 1137.4,387.8 1139.7,395.2C1142.1,402.7 1142.5,410.9 1142.1,418.8C1141.7,426.6 1140.1,434.9 1137.4,442.3C1134.6,449.8 1130.3,457.6 1125.6,463.5C1120.9,469.4 1113.4,472.2 1109.1,477.6C1104.8,483.1 1101.6,490.2 1099.7,496.5C1097.7,502.8 1097.5,509.4 1097.3,515.3C1097.1,521.3 1097.3,523.8 1098.5,532.1C1099.7,540.4 1102.2,551.7 1104.4,565.1C1106.5,578.4 1109.1,600.4 1111.5,612.2C1113.8,624 1116.2,627.9 1118.5,635.7C1120.9,643.6 1124,651.4 1125.6,659.3C1127.2,667.1 1127.9,675 1127.9,682.8C1127.9,690.7 1127.5,698.5 1125.6,706.4C1123.6,714.2 1119.7,722.1 1116.2,729.9C1112.6,737.8 1107.9,745.6 1104.4,753.5C1100.9,761.3 1096.9,765.2 1095,777C1093,788.8 1092.2,804.5 1092.6,824.1C1093,843.7 1100.5,883 1097.3,894.7C1094.2,906.5 1078.5,906.5 1073.8,894.7C1069.1,883 1071.4,842.9 1069.1,824.1C1066.7,805.3 1063.2,790.3 1059.7,781.7C1056.1,773.1 1051.8,773.5 1047.9,772.3C1044,771.1 1039.6,770.7 1036.1,774.7C1032.6,778.6 1029.4,787.6 1026.7,795.8C1023.9,804.1 1021.6,807.6 1019.6,824.1C1017.7,840.6 1020.4,883 1014.9,894.7C1009.4,906.5 991.8,906.5 986.7,894.7C981.6,883 985.9,840.6 984.3,824.1C982.7,807.6 981.9,804.1 977.2,795.8C972.5,787.6 963.1,779.8 956,774.7C949,769.6 940,766.4 934.9,765.2C929.8,764.1 927.4,763.7 925.4,767.6C923.5,771.5 923.5,779.4 923.1,788.8C922.7,798.2 925,806.4 923.1,824.1C921.1,841.8 918.4,883 911.3,894.7C904.2,906.5 883.1,906.5 880.7,894.7C878.3,883 893.7,843.7 897.2,824.1C900.7,804.5 902.7,788.8 901.9,777C901.1,765.2 896,761.3 892.5,753.5C888.9,745.6 883.8,737.8 880.7,729.9C877.6,722.1 875.2,714.2 873.6,706.4C872.1,698.5 871.3,690.7 871.3,682.8C871.3,675 872.5,667.1 873.6,659.3C874.8,651.4 876,643.6 878.3,635.7C880.7,627.9 884.6,624 887.8,612.2C890.9,600.4 894.4,580.8 897.2,565.1C899.9,549.4 898.8,528.7 904.2,518C909.7,507.3 926.6,507.9 930.1,501.2C933.7,494.5 927.8,485.5 925.4,477.6C923.1,469.8 919.6,461.9 916,454.1C912.5,446.2 908.2,438.4 904.2,430.6C900.3,422.7 896,414.9 892.5,407C888.9,399.2 886.6,391.3 883.1,383.5C879.5,375.6 875.6,367.8 871.3,359.9C867,352.1 860.9,343 857.2,336.4C853.4,329.7 850.1,323.8 848.9,319.9C847.7,316 848.3,314 850.1,312.8C851.9,311.6 856,310.1 859.5,312.8C863,315.6 867,323 871.3,329.3C875.6,335.6 880.3,344.2 885.4,350.5C890.5,356.8 896.8,363.8 901.9,367C907,370.1 911.7,371.3 916,369.3C920.3,367.4 924.7,360.7 927.8,355.2C930.9,349.7 932.9,343.4 934.9,336.4C936.8,329.3 938.4,320.7 939.6,312.8C940.7,305 940.7,297.1 941.9,289.3C943.1,281.4 944.7,273.6 946.6,265.7C948.6,257.9 950.9,250 953.7,242.2C956.4,234.3 959.6,226.1 963.1,218.6C966.6,211.2 971,204.5 974.9,197.4C978.8,190.4 982.7,181.7 986.7,176.3C990.6,170.8 994.9,167 998.4,164.5C1002,161.9 1003.9,160.2 1007.9,161Z" fill="#3b3b3b" filter="url(#f70)"/>
<filter id="f71" filterUnits="userSpaceOnUse" x="908" y="117" width="189" height="326" color-interpolation-filters="sRGB"><feGaussianBlur stdDeviation="14"/></filter>
<ellipse cx="1003.1" cy="279.9" rx="49.4" ry="117.7" fill="#6b6b6b" filter="url(#f71)"/>
<filter id="f72" filterUnits="userSpaceOnUse" x="824" y="287" width="109" height="113" color-interpolation-filters="sRGB"><feGaussianBlur stdDeviation="4"/></filter>
<path d="M853.6,316.4C857.4,320.9 867.6,334.4 876,343.4C884.4,352.5 899.5,366 904.2,370.5" fill="none" stroke="#4c4c4c" stroke-width="14.1" stroke-linecap="round" filter="url(#f72)"/>
<filter id="f73" filterUnits="userSpaceOnUse" x="1075" y="287" width="62" height="100" color-interpolation-filters="sRGB"><feGaussianBlur stdDeviation="4"/></filter>
<path d="M1110.3,314C1109.7,317.7 1108.1,328.7 1106.7,336.4C1105.4,344 1102.8,356 1102,359.9" fill="none" stroke="#4c4c4c" stroke-width="11.8" stroke-linecap="round" filter="url(#f73)"/>
<filter id="f74" filterUnits="userSpaceOnUse" x="852" y="418" width="293" height="269" color-interpolation-filters="sRGB"><feGaussianBlur stdDeviation="14"/></filter>
<ellipse cx="998.4" cy="553.3" rx="101.2" ry="89.5" fill="#707070" filter="url(#f74)"/>
<filter id="f75" filterUnits="userSpaceOnUse" x="852" y="583" width="293" height="269" color-interpolation-filters="sRGB"><feGaussianBlur stdDeviation="14"/></filter>
<ellipse cx="998.4" cy="718.1" rx="101.2" ry="89.5" fill="#494949" filter="url(#f75)"/>
<filter id="f76" filterUnits="userSpaceOnUse" x="859" y="741" width="89" height="188" color-interpolation-filters="sRGB"><feGaussianBlur stdDeviation="4"/></filter>
<path d="M913.7,777C912.9,784.9 912.1,804.5 909,824.1C905.8,843.7 897.2,883 894.8,894.7" fill="none" stroke="#4a4a4a" stroke-width="20" stroke-linecap="round" filter="url(#f76)"/>
<filter id="f77" filterUnits="userSpaceOnUse" x="1042" y="741" width="79" height="188" color-interpolation-filters="sRGB"><feGaussianBlur stdDeviation="4"/></filter>
<path d="M1077.3,777C1077.9,784.9 1079.5,804.5 1080.8,824.1C1082.2,843.7 1084.8,883 1085.6,894.7" fill="none" stroke="#4a4a4a" stroke-width="20" stroke-linecap="round" filter="url(#f77)"/>
<filter id="f78" filterUnits="userSpaceOnUse" x="959" y="750" width="79" height="184" color-interpolation-filters="sRGB"><feGaussianBlur stdDeviation="4"/></filter>
<path d="M998.4,788.8C998.6,794.7 999.4,806.4 999.6,824.1C999.8,841.8 999.6,883 999.6,894.7" fill="none" stroke="#4c4c4c" stroke-width="23.5" stroke-linecap="round" filter="url(#f78)"/>
<filter id="f79" filterUnits="userSpaceOnUse" x="954" y="132" width="106" height="120" color-interpolation-filters="sRGB"><feGaussianBlur stdDeviation="8"/></filter>
<ellipse cx="1007.9" cy="192.7" rx="25.9" ry="33" fill="#8c8c8c" filter="url(#f79)"/>
<filter id="f80" filterUnits="userSpaceOnUse" x="906" y="207" width="111" height="217" color-interpolation-filters="sRGB"><feGaussianBlur stdDeviation="6"/></filter>
<path d="M977.2,246.9C974.5,254 964.3,275.1 960.8,289.3C957.2,303.4 958.4,319.9 956,331.7C953.7,343.4 947,351.3 946.6,359.9C946.2,368.5 952.5,379.5 953.7,383.5" fill="none" stroke="#999999" stroke-width="18.8" stroke-linecap="round" filter="url(#f80)"/>
<filter id="f81" filterUnits="userSpaceOnUse" x="968" y="195" width="123" height="231" color-interpolation-filters="sRGB"><feGaussianBlur stdDeviation="6"/></filter>
<path d="M1010.2,237.5C1012.6,246.1 1020,273.6 1024.3,289.3C1028.6,305 1032.2,319.9 1036.1,331.7C1040,343.4 1047.5,351.3 1047.9,359.9C1048.3,368.5 1040,379.5 1038.5,383.5" fill="none" stroke="#9e9e9e" stroke-width="21.2" stroke-linecap="round" filter="url(#f81)"/>
<filter id="f82" filterUnits="userSpaceOnUse" x="968" y="168" width="46" height="38" color-interpolation-filters="sRGB"><feGaussianBlur stdDeviation="3"/></filter>
<ellipse cx="991.4" cy="186.9" rx="10.6" ry="6.6" fill="#ffffff" filter="url(#f82)"/>
<filter id="f83" filterUnits="userSpaceOnUse" x="1000" y="160" width="41" height="39" color-interpolation-filters="sRGB"><feGaussianBlur stdDeviation="3"/></filter>
<ellipse cx="1020.8" cy="179.8" rx="8.2" ry="7.1" fill="#f2f2f2" filter="url(#f83)"/>
<filter id="f84" filterUnits="userSpaceOnUse" x="972" y="187" width="43" height="35" color-interpolation-filters="sRGB"><feGaussianBlur stdDeviation="3"/></filter>
<ellipse cx="993.7" cy="204.5" rx="9.4" ry="5.2" fill="#f2f2f2" filter="url(#f84)"/>
<filter id="f85" filterUnits="userSpaceOnUse" x="1005" y="183" width="39" height="40" color-interpolation-filters="sRGB"><feGaussianBlur stdDeviation="3"/></filter>
<ellipse cx="1024.3" cy="203.3" rx="7.1" ry="7.5" fill="#e6e6e6" filter="url(#f85)"/>
<filter id="f86" filterUnits="userSpaceOnUse" x="993" y="229" width="43" height="36" color-interpolation-filters="sRGB"><feGaussianBlur stdDeviation="3"/></filter>
<ellipse cx="1014.9" cy="246.9" rx="9.4" ry="5.9" fill="#f2f2f2" filter="url(#f86)"/>
<filter id="f87" filterUnits="userSpaceOnUse" x="962" y="226" width="39" height="31" color-interpolation-filters="sRGB"><feGaussianBlur stdDeviation="3"/></filter>
<ellipse cx="981.9" cy="242.2" rx="7.1" ry="3.3" fill="#d9d9d9" filter="url(#f87)"/>
<filter id="f88" filterUnits="userSpaceOnUse" x="935" y="273" width="41" height="33" color-interpolation-filters="sRGB"><feGaussianBlur stdDeviation="3"/></filter>
<ellipse cx="956" cy="289.3" rx="8.2" ry="4.2" fill="#f2f2f2" filter="url(#f88)"/>
<filter id="f89" filterUnits="userSpaceOnUse" x="999" y="273" width="41" height="33" color-interpolation-filters="sRGB"><feGaussianBlur stdDeviation="3"/></filter>
<ellipse cx="1019.6" cy="289.3" rx="8.2" ry="4.2" fill="#f2f2f2" filter="url(#f89)"/>
<filter id="f90" filterUnits="userSpaceOnUse" x="1019" y="282" width="39" height="33" color-interpolation-filters="sRGB"><feGaussianBlur stdDeviation="3"/></filter>
<ellipse cx="1038.5" cy="298.7" rx="7.1" ry="4.2" fill="#e6e6e6" filter="url(#f90)"/>
<filter id="f91" filterUnits="userSpaceOnUse" x="936" y="296" width="43" height="33" color-interpolation-filters="sRGB"><feGaussianBlur stdDeviation="3"/></filter>
<ellipse cx="958.4" cy="312.8" rx="9.4" ry="4.2" fill="#f2f2f2" filter="url(#f91)"/>
<filter id="f92" filterUnits="userSpaceOnUse" x="1002" y="301" width="43" height="33" color-interpolation-filters="sRGB"><feGaussianBlur stdDeviation="3"/></filter>
<ellipse cx="1024.3" cy="317.5" rx="9.4" ry="4.2" fill="#f2f2f2" filter="url(#f92)"/>
<filter id="f93" filterUnits="userSpaceOnUse" x="932" y="319" width="43" height="34" color-interpolation-filters="sRGB"><feGaussianBlur stdDeviation="3"/></filter>
<ellipse cx="953.7" cy="336.4" rx="9.4" ry="4.7" fill="#f2f2f2" filter="url(#f93)"/>
<filter id="f94" filterUnits="userSpaceOnUse" x="1013" y="326" width="46" height="34" color-interpolation-filters="sRGB"><feGaussianBlur stdDeviation="3"/></filter>
<ellipse cx="1036.1" cy="343.4" rx="10.6" ry="4.7" fill="#f2f2f2" filter="url(#f94)"/>
<filter id="f95" filterUnits="userSpaceOnUse" x="919" y="338" width="46" height="34" color-interpolation-filters="sRGB"><feGaussianBlur stdDeviation="3"/></filter>
<ellipse cx="941.9" cy="355.2" rx="10.6" ry="4.7" fill="#f2f2f2" filter="url(#f95)"/>
<filter id="f96" filterUnits="userSpaceOnUse" x="953" y="250" width="39" height="30" color-interpolation-filters="sRGB"><feGaussianBlur stdDeviation="3"/></filter>
<ellipse cx="972.5" cy="265.7" rx="7.1" ry="2.8" fill="#cccccc" filter="url(#f96)"/>
<filter id="f97" filterUnits="userSpaceOnUse" x="1022" y="250" width="36" height="30" color-interpolation-filters="sRGB"><feGaussianBlur stdDeviation="3"/></filter>
<ellipse cx="1040.8" cy="265.7" rx="5.9" ry="2.8" fill="#cccccc" filter="url(#f97)"/>
<filter id="f98" filterUnits="userSpaceOnUse" x="877" y="357" width="237" height="277" color-interpolation-filters="sRGB"><feGaussianBlur stdDeviation="5"/></filter>
<path d="M972.5,381.1C979.6,380.3 996.5,383.1 1005.5,385.8C1014.5,388.6 1022.2,392.1 1026.7,397.6C1031.2,403.1 1031,411.3 1032.6,418.8C1034.1,426.2 1033.9,434.5 1036.1,442.3C1038.3,450.2 1041.2,460 1045.5,465.9C1049.8,471.8 1056.1,474.9 1062,477.6C1067.9,480.4 1076.9,478.4 1080.8,482.4C1084.8,486.3 1084.2,494.5 1085.6,501.2C1086.9,507.9 1088.3,516 1089.1,522.7C1089.9,529.4 1090.9,532.5 1090.3,541.5C1089.7,550.6 1088.3,567.4 1085.6,576.9C1082.8,586.3 1078.5,594.1 1073.8,598.1C1069.1,602 1063.2,602.4 1057.3,600.4C1051.4,598.4 1044.3,589.8 1038.5,586.3C1032.6,582.8 1027.9,579.2 1022,579.2C1016.1,579.2 1009.8,584.7 1003.1,586.3C996.5,587.9 988.6,585.9 981.9,588.6C975.3,591.4 969.4,599.2 963.1,602.8C956.8,606.3 949.8,610.2 944.3,609.8C938.8,609.4 934.1,605.5 930.1,600.4C926.2,595.3 924.7,585.9 920.7,579.2C916.8,572.5 909.7,566.7 906.6,560.4C903.5,554.1 900.3,546.3 901.9,541.5C903.5,536.8 910.5,532.9 916,532.1C921.5,531.3 930.1,538 934.9,536.8C939.6,535.7 943.1,531 944.3,525.1C945.5,519.1 941.5,509.1 941.9,501.2C942.3,493.3 945.5,485.5 946.6,477.6C947.8,469.8 947.8,461.9 949,454.1C950.2,446.2 952.5,438.4 953.7,430.6C954.9,422.7 954.5,413.7 956,407C957.6,400.3 960.4,394.8 963.1,390.5C965.9,386.2 965.5,381.9 972.5,381.1Z" fill="#ffffff" filter="url(#f98)"/>
<filter id="f99" filterUnits="userSpaceOnUse" x="1005" y="340" width="157" height="162" color-interpolation-filters="sRGB"><feGaussianBlur stdDeviation="5"/></filter>
<path d="M1052.6,374C1059.7,370.9 1071.8,365.8 1080.8,364.6C1089.9,363.4 1098.9,363.8 1106.7,367C1114.6,370.1 1122.8,376.8 1127.9,383.5C1133,390.1 1136.2,399.2 1137.4,407C1138.5,414.9 1137,423.1 1135,430.6C1133,438 1129.9,445.5 1125.6,451.7C1121.3,458 1115,463.9 1109.1,468.2C1103.2,472.5 1096.1,476.5 1090.3,477.6C1084.4,478.8 1079.3,477.6 1073.8,475.3C1068.3,472.9 1062.8,468.2 1057.3,463.5C1051.8,458.8 1045.5,453.3 1040.8,447C1036.1,440.8 1031,433.3 1029,425.8C1027.1,418.4 1027.5,409.4 1029,402.3C1030.6,395.2 1034.5,388.2 1038.5,383.5C1042.4,378.8 1045.5,377.2 1052.6,374Z" fill="#ffffff" filter="url(#f99)"/>
<filter id="f100" filterUnits="userSpaceOnUse" x="885" y="492" width="99" height="66" color-interpolation-filters="sRGB"><feGaussianBlur stdDeviation="6"/></filter>
<ellipse cx="934.9" cy="525.1" rx="28.3" ry="11.8" fill="#999999" filter="url(#f100)"/>
<filter id="f101" filterUnits="userSpaceOnUse" x="938" y="509" width="79" height="50" color-interpolation-filters="sRGB"><feGaussianBlur stdDeviation="5"/></filter>
<ellipse cx="977.2" cy="534.5" rx="21.2" ry="6.6" fill="#9e9e9e" filter="url(#f101)"/>
<filter id="f102" filterUnits="userSpaceOnUse" x="880" y="473" width="71" height="61" color-interpolation-filters="sRGB"><feGaussianBlur stdDeviation="6"/></filter>
<ellipse cx="916" cy="503.9" rx="14.1" ry="9.4" fill="#8c8c8c" filter="url(#f102)"/>
<filter id="f103" filterUnits="userSpaceOnUse" x="927" y="540" width="57" height="31" color-interpolation-filters="sRGB"><feGaussianBlur stdDeviation="3"/></filter>
<ellipse cx="956" cy="555.7" rx="16.5" ry="3.3" fill="#a8a8a8" filter="url(#f103)"/>
<filter id="f104" filterUnits="userSpaceOnUse" x="988" y="512" width="53" height="31" color-interpolation-filters="sRGB"><feGaussianBlur stdDeviation="3"/></filter>
<ellipse cx="1014.9" cy="527.4" rx="14.1" ry="3.3" fill="#a8a8a8" filter="url(#f104)"/>
<filter id="f105" filterUnits="userSpaceOnUse" x="901" y="533" width="48" height="31" color-interpolation-filters="sRGB"><feGaussianBlur stdDeviation="3"/></filter>
<ellipse cx="925.4" cy="548.6" rx="11.8" ry="3.3" fill="#9e9e9e" filter="url(#f105)"/>
<filter id="f106" filterUnits="userSpaceOnUse" x="990" y="599" width="35" height="31" color-interpolation-filters="sRGB"><feGaussianBlur stdDeviation="3"/></filter>
<ellipse cx="1007.9" cy="614.5" rx="5.2" ry="3.3" fill="#e6e6e6" filter="url(#f106)"/>
<filter id="f107" filterUnits="userSpaceOnUse" x="989" y="618" width="33" height="31" color-interpolation-filters="sRGB"><feGaussianBlur stdDeviation="3"/></filter>
<ellipse cx="1005.5" cy="633.4" rx="4.2" ry="3.3" fill="#e6e6e6" filter="url(#f107)"/>
<filter id="f108" filterUnits="userSpaceOnUse" x="920" y="604" width="39" height="29" color-interpolation-filters="sRGB"><feGaussianBlur stdDeviation="3"/></filter>
<ellipse cx="939.6" cy="619.2" rx="7.1" ry="2.4" fill="#cccccc" filter="url(#f108)"/>
<filter id="f109" filterUnits="userSpaceOnUse" x="873" y="657" width="34" height="33" color-interpolation-filters="sRGB"><feGaussianBlur stdDeviation="3"/></filter>
<ellipse cx="890.1" cy="673.4" rx="4.7" ry="4.2" fill="#e6e6e6" filter="url(#f109)"/>
<filter id="f110" filterUnits="userSpaceOnUse" x="869" y="676" width="33" height="33" color-interpolation-filters="sRGB"><feGaussianBlur stdDeviation="3"/></filter>
<ellipse cx="885.4" cy="692.2" rx="4.2" ry="4.2" fill="#b2b2b2" filter="url(#f110)"/>
<filter id="f111" filterUnits="userSpaceOnUse" x="1099" y="665" width="34" height="35" color-interpolation-filters="sRGB"><feGaussianBlur stdDeviation="3"/></filter>
<ellipse cx="1116.2" cy="682.8" rx="4.7" ry="5.2" fill="#ebebeb" filter="url(#f111)"/>
<filter id="f112" filterUnits="userSpaceOnUse" x="970" y="722" width="38" height="34" color-interpolation-filters="sRGB"><feGaussianBlur stdDeviation="3"/></filter>
<ellipse cx="989" cy="739.3" rx="6.6" ry="4.7" fill="#e6e6e6" filter="url(#f112)"/>
<filter id="f113" filterUnits="userSpaceOnUse" x="989" y="744" width="32" height="38" color-interpolation-filters="sRGB"><feGaussianBlur stdDeviation="3"/></filter>
<ellipse cx="1005.5" cy="762.9" rx="3.8" ry="6.6" fill="#cccccc" filter="url(#f113)"/>
<filter id="f114" filterUnits="userSpaceOnUse" x="978" y="790" width="35" height="29" color-interpolation-filters="sRGB"><feGaussianBlur stdDeviation="3"/></filter>
<ellipse cx="996.1" cy="805.3" rx="5.2" ry="2.4" fill="#bfbfbf" filter="url(#f114)"/>
<filter id="f115" filterUnits="userSpaceOnUse" x="958" y="677" width="33" height="29" color-interpolation-filters="sRGB"><feGaussianBlur stdDeviation="3"/></filter>
<ellipse cx="974.9" cy="692.2" rx="4.2" ry="2.4" fill="#999999" filter="url(#f115)"/>
<filter id="f116" filterUnits="userSpaceOnUse" x="1013" y="677" width="31" height="29" color-interpolation-filters="sRGB"><feGaussianBlur stdDeviation="3"/></filter>
<ellipse cx="1029" cy="692.2" rx="3.3" ry="2.4" fill="#999999" filter="url(#f116)"/>
<filter id="f117" filterUnits="userSpaceOnUse" x="966" y="767" width="64" height="137" color-interpolation-filters="sRGB"><feGaussianBlur stdDeviation="6"/></filter>
<ellipse cx="998.4" cy="835.9" rx="10.6" ry="47.1" fill="#666666" filter="url(#f117)"/>
</g>
<rect x="1189" y="140" width="46" height="760" fill="#000"/>
<rect x="1190.5" y="148" width="29.5" height="743" fill="url(#cbar)"/>
<rect x="1188.9" y="148" width="2.5" height="743" fill="#ddd3d1"/>
<rect x="1218.8" y="148" width="2.5" height="743" fill="#ddd3d1"/>
</g>
<g clip-path="url(#c4)">
<g filter="url(#pet4)">
<rect x="1245" y="150" width="382" height="760" fill="#000"/>
<filter id="f118" filterUnits="userSpaceOnUse" x="1252" y="192" width="310" height="189" color-interpolation-filters="sRGB"><feGaussianBlur stdDeviation="8"/></filter>
<path d="M1285.4,318.2C1287.4,322.9 1291.3,332.3 1301.8,336.9C1312.4,341.6 1333,344.4 1348.7,346.3C1364.3,348.3 1379.9,348.7 1395.5,348.7C1411.1,348.7 1426.7,347.5 1442.3,346.3C1457.9,345.1 1477.4,344.7 1489.1,341.6C1500.8,338.5 1506.7,333 1512.6,327.6C1518.4,322.1 1521.5,315.1 1524.3,308.8C1527,302.6 1529.3,296.4 1528.9,290.1C1528.6,283.9 1525.4,277.2 1521.9,271.4C1518.4,265.5 1513.3,260.1 1507.9,255C1502.4,249.9 1496.2,244.9 1489.1,240.9C1482.1,237 1473.5,233.9 1465.7,231.6C1457.9,229.2 1450.1,227.9 1442.3,226.9C1434.5,225.9 1426.7,225.3 1418.9,225.7C1411.1,226.1 1403.3,227.5 1395.5,229.2C1387.7,231 1379.9,233.1 1372.1,236.3C1364.3,239.4 1355.3,243.3 1348.7,248C1342,252.7 1337.3,258.5 1332.3,264.4C1327.2,270.2 1323.3,277.2 1318.2,283.1C1313.1,288.9 1306.5,295.2 1301.8,299.5C1297.1,303.8 1292.9,305.7 1290.1,308.8C1287.4,312 1283.5,313.5 1285.4,318.2Z" fill="#333333" filter="url(#f118)"/>
<filter id="f119" filterUnits="userSpaceOnUse" x="1411" y="203" width="146" height="146" color-interpolation-filters="sRGB"><feGaussianBlur stdDeviation="10"/></filter>
<ellipse cx="1484.5" cy="276.1" rx="39.8" ry="39.8" fill="#4c4c4c" filter="url(#f119)"/>
<filter id="f120" filterUnits="userSpaceOnUse" x="1292" y="210" width="207" height="141" color-interpolation-filters="sRGB"><feGaussianBlur stdDeviation="10"/></filter>
<ellipse cx="1395.5" cy="280.8" rx="70.2" ry="37.5" fill="#3b3b3b" filter="url(#f120)"/>
<filter id="f121" filterUnits="userSpaceOnUse" x="1465" y="268" width="42" height="40" color-interpolation-filters="sRGB"><feGaussianBlur stdDeviation="4"/></filter>
<ellipse cx="1486.8" cy="287.8" rx="5.9" ry="4.7" fill="#6b6b6b" filter="url(#f121)"/>
<filter id="f122" filterUnits="userSpaceOnUse" x="1245" y="418" width="316" height="195" color-interpolation-filters="sRGB"><feGaussianBlur stdDeviation="8"/></filter>
<path d="M1278.4,533.6C1278.8,527 1281.5,523.1 1285.4,517.2C1289.3,511.4 1296,504.4 1301.8,498.5C1307.7,492.6 1313.5,487.6 1320.6,482.1C1327.6,476.6 1335.4,470 1344,465.7C1352.6,461.4 1362.7,458.7 1372.1,456.4C1381.4,454 1390.8,452.3 1400.2,451.7C1409.5,451.1 1418.9,451.7 1428.3,452.8C1437.6,454 1447.8,456.2 1456.4,458.7C1464.9,461.2 1472.4,464.5 1479.8,468.1C1487.2,471.6 1494.6,475.1 1500.8,479.8C1507.1,484.5 1512.9,490.3 1517.2,496.2C1521.5,502 1524.8,508.6 1526.6,514.9C1528.4,521.1 1528.9,527 1527.8,533.6C1526.6,540.3 1523.7,548.4 1519.6,554.7C1515.5,560.9 1510.2,567.2 1503.2,571.1C1496.2,575 1487.6,576.5 1477.4,578.1C1467.3,579.7 1454,580.3 1442.3,580.4C1430.6,580.6 1418.9,579.3 1407.2,579.3C1395.5,579.3 1383.8,580.6 1372.1,580.4C1360.4,580.3 1348.7,579.7 1336.9,578.1C1325.2,576.5 1310.8,574.6 1301.8,571.1C1292.9,567.6 1287,563.3 1283.1,557C1279.2,550.8 1278,540.3 1278.4,533.6Z" fill="#363636" filter="url(#f122)"/>
<filter id="f123" filterUnits="userSpaceOnUse" x="1285" y="435" width="221" height="151" color-interpolation-filters="sRGB"><feGaussianBlur stdDeviation="10"/></filter>
<ellipse cx="1395.5" cy="510.2" rx="77.3" ry="42.1" fill="#404040" filter="url(#f123)"/>
<filter id="f124" filterUnits="userSpaceOnUse" x="1443" y="462" width="102" height="105" color-interpolation-filters="sRGB"><feGaussianBlur stdDeviation="4"/></filter>
<path d="M1464.6,483.3C1467.5,480.9 1478,483.1 1484.5,484.5C1490.9,485.8 1497.5,488.4 1503.2,491.5C1508.8,494.6 1514.9,498.9 1518.4,503.2C1521.9,507.5 1524.1,512.5 1524.3,517.2C1524.5,521.9 1522.3,527.2 1519.6,531.3C1516.8,535.4 1511.8,539.5 1507.9,541.8C1504,544.2 1499.9,545.5 1496.2,545.3C1492.5,545.1 1488.6,543.4 1485.6,540.6C1482.7,537.9 1480.7,533.2 1478.6,528.9C1476.5,524.6 1474.7,520 1472.7,514.9C1470.8,509.8 1468.3,503.8 1466.9,498.5C1465.5,493.2 1461.6,485.6 1464.6,483.3Z" fill="#ffffff" filter="url(#f124)"/>
<filter id="f125" filterUnits="userSpaceOnUse" x="1434" y="450" width="125" height="134" color-interpolation-filters="sRGB"><feGaussianBlur stdDeviation="8"/></filter>
<ellipse cx="1496.2" cy="517.2" rx="35.1" ry="39.8" fill="#666666" filter="url(#f125)"/>
<filter id="f126" filterUnits="userSpaceOnUse" x="1443" y="462" width="102" height="105" color-interpolation-filters="sRGB"><feGaussianBlur stdDeviation="4"/></filter>
<path d="M1464.6,483.3C1467.5,480.9 1478,483.1 1484.5,484.5C1490.9,485.8 1497.5,488.4 1503.2,491.5C1508.8,494.6 1514.9,498.9 1518.4,503.2C1521.9,507.5 1524.1,512.5 1524.3,517.2C1524.5,521.9 1522.3,527.2 1519.6,531.3C1516.8,535.4 1511.8,539.5 1507.9,541.8C1504,544.2 1499.9,545.5 1496.2,545.3C1492.5,545.1 1488.6,543.4 1485.6,540.6C1482.7,537.9 1480.7,533.2 1478.6,528.9C1476.5,524.6 1474.7,520 1472.7,514.9C1470.8,509.8 1468.3,503.8 1466.9,498.5C1465.5,493.2 1461.6,485.6 1464.6,483.3Z" fill="#ffffff" filter="url(#f126)"/>
<filter id="f127" filterUnits="userSpaceOnUse" x="1257" y="652" width="322" height="200" color-interpolation-filters="sRGB"><feGaussianBlur stdDeviation="8"/></filter>
<path d="M1290.1,774.8C1288.9,766.6 1296.8,753.4 1301.8,744.4C1306.9,735.4 1313.5,728 1320.6,721C1327.6,714 1335.4,707.3 1344,702.3C1352.6,697.2 1362.7,693.3 1372.1,690.6C1381.4,687.8 1390.8,686.3 1400.2,685.9C1409.5,685.5 1419.3,686.3 1428.3,688.2C1437.2,690.2 1445.8,695.2 1454,697.6C1462.2,699.9 1469.6,699.9 1477.4,702.3C1485.2,704.6 1493.8,707.3 1500.8,711.6C1507.9,715.9 1513.7,722.2 1519.6,728C1525.4,733.9 1531.7,740.1 1536,746.7C1540.3,753.4 1544.2,760.8 1545.3,767.8C1546.5,774.8 1545.3,782.3 1543,788.9C1540.6,795.5 1536.4,802.6 1531.3,807.6C1526.2,812.7 1521.5,818.2 1512.6,819.3C1503.6,820.5 1489.1,817 1477.4,814.6C1465.7,812.3 1454,806.5 1442.3,805.3C1430.6,804.1 1418.9,806.8 1407.2,807.6C1395.5,808.4 1383.8,810.4 1372.1,810C1360.4,809.6 1347.5,808 1336.9,805.3C1326.4,802.6 1316.7,798.6 1308.9,793.6C1301,788.5 1291.3,783 1290.1,774.8Z" fill="#474747" filter="url(#f127)"/>
<filter id="f128" filterUnits="userSpaceOnUse" x="1281" y="667" width="275" height="182" color-interpolation-filters="sRGB"><feGaussianBlur stdDeviation="12"/></filter>
<ellipse cx="1418.9" cy="758.5" rx="98.3" ry="51.5" fill="#666666" filter="url(#f128)"/>
<filter id="f129" filterUnits="userSpaceOnUse" x="1339" y="718" width="113" height="101" color-interpolation-filters="sRGB"><feGaussianBlur stdDeviation="4"/></filter>
<path d="M1360.4,753.8C1363.1,747.9 1370.1,744.4 1376.8,742.1C1383.4,739.7 1392.8,738.9 1400.2,739.7C1407.6,740.5 1416.2,742.8 1421.2,746.7C1426.3,750.6 1429.4,757.3 1430.6,763.1C1431.8,769 1430.6,776.8 1428.3,781.9C1425.9,786.9 1422,790.8 1416.6,793.6C1411.1,796.3 1402.5,798.3 1395.5,798.3C1388.5,798.3 1380.3,797.1 1374.4,793.6C1368.6,790.1 1362.7,783.8 1360.4,777.2C1358,770.6 1357.6,759.6 1360.4,753.8Z" fill="#ffffff" filter="url(#f129)"/>
<filter id="f130" filterUnits="userSpaceOnUse" x="1418" y="683" width="141" height="148" color-interpolation-filters="sRGB"><feGaussianBlur stdDeviation="4"/></filter>
<path d="M1442.3,709.3C1446.6,706.9 1457.9,705 1465.7,704.6C1473.5,704.2 1481.3,703.8 1489.1,706.9C1496.9,710.1 1505.5,716.7 1512.6,723.3C1519.6,730 1527,738.9 1531.3,746.7C1535.6,754.6 1537.9,762.7 1538.3,770.2C1538.7,777.6 1536.7,785 1533.6,791.2C1530.5,797.5 1526.2,804.5 1519.6,807.6C1512.9,810.7 1499.7,812.3 1493.8,810C1488,807.6 1485.2,799 1484.5,793.6C1483.7,788.1 1491.1,781.5 1489.1,777.2C1487.2,772.9 1476.6,772.5 1472.7,767.8C1468.8,763.1 1469.6,754.6 1465.7,749.1C1461.8,743.6 1453.6,740.1 1449.3,735C1445,730 1441.1,722.9 1440,718.7C1438.8,714.4 1438,711.6 1442.3,709.3Z" fill="#ffffff" filter="url(#f130)"/>
<filter id="f131" filterUnits="userSpaceOnUse" x="1424" y="768" width="31" height="31" color-interpolation-filters="sRGB"><feGaussianBlur stdDeviation="3"/></filter>
<ellipse cx="1440" cy="784.2" rx="3.3" ry="3.3" fill="#e6e6e6" filter="url(#f131)"/>
</g>
<rect x="1577.6" y="218.7" width="25.1" height="601.3" fill="url(#cbar2)"/>
<path d="M1578.2,219.4V819.4H1602.1V219.4" fill="none" stroke="#f0e8e0" stroke-width="1.3" stroke-opacity="0.45"/>
<path d="M1578.2,520V819.4H1602.1V520" fill="none" stroke="#f0e8e0" stroke-width="1.3" stroke-opacity="0.6"/>
</g>
<polygon points="405.4,353.3 383.8,379.8 373.4,371.2 361.2,411 397.8,391.2 387.4,382.7 409,356.3" fill="#fff"/>
<polygon points="786.7,357 765.1,382.6 754.8,373.9 742,413.5 778.9,394.3 768.6,385.6 790.3,360" fill="#fff"/>
<polygon points="1184.7,312.7 1163.6,337.6 1153.3,328.9 1140.4,368.4 1177.3,349.3 1167.1,340.6 1188.3,315.7" fill="#fff"/>
<polygon points="1562.7,212.8 1542.1,237.9 1531.7,229.3 1519.3,269 1556,249.4 1545.6,240.8 1566.3,215.8" fill="#fff"/>
<polygon points="1565,426 1543.4,452 1533.1,443.3 1520.5,483 1557.3,463.5 1546.9,454.9 1568.6,429" fill="#fff"/>
<polygon points="1574.7,672.7 1553.8,698.3 1543.4,689.7 1531.2,729.5 1567.8,709.7 1557.4,701.2 1578.3,675.7" fill="#fff"/>
<text x="1073.8" y="193.2" font-size="33.4" font-weight="bold" fill="#fff" textLength="107" lengthAdjust="spacingAndGlyphs">5%ID/g</text>
<text x="1068.4" y="875.2" font-size="37.5" font-weight="bold" fill="#fff" textLength="118.5" lengthAdjust="spacingAndGlyphs">0%ID/g</text>
<text x="1500.6" y="198.7" font-size="34.3" font-weight="bold" fill="#fff" textLength="106.2" lengthAdjust="spacingAndGlyphs">5%ID/g</text>
<text x="1323.6" y="383" font-size="32.6" font-weight="bold" fill="#fff" textLength="179.6" lengthAdjust="spacingAndGlyphs">CT26 tumor</text>
<text x="1281" y="625.7" font-size="32.6" font-weight="bold" fill="#fff" textLength="270" lengthAdjust="spacingAndGlyphs">CT26/CD73 tumor</text>
<text x="1281" y="846.9" font-size="32.6" font-weight="bold" fill="#fff" textLength="280.4" lengthAdjust="spacingAndGlyphs">Isotype Ab control</text>
<text x="1505.2" y="880.8" font-size="34.3" font-weight="bold" fill="#fff" textLength="106.5" lengthAdjust="spacingAndGlyphs">0%ID/g</text>
</g>
<g id="panelB">
<text x="-2.7" y="978" font-size="73.9" font-weight="bold" textLength="50.5" lengthAdjust="spacingAndGlyphs">B</text>
<text transform="translate(25.4 1497.4) rotate(-90)" x="0" y="0" font-size="28.1" font-weight="bold" textLength="30.6" lengthAdjust="spacingAndGlyphs">89</text>
<text transform="translate(41 1464.6) rotate(-90)" x="0" y="0" font-size="37.8" font-weight="bold" textLength="409" lengthAdjust="spacingAndGlyphs">Zr-CD73 or isotype IgG</text>
<text transform="translate(85 1339.9) rotate(-90)" x="0" y="0" font-size="37.8" font-weight="bold" textLength="126.7" lengthAdjust="spacingAndGlyphs">(%ID/g)</text>
<rect x="379.6" y="1017.2" width="44.4" height="14.2" fill="#fff" stroke="#000" stroke-width="3.6"/>
<text x="452.8" y="1034.4" font-size="31.2" textLength="334.7" lengthAdjust="spacingAndGlyphs">CT26 tumor (CD73 IgG)</text>
<rect x="379.6" y="1056.2" width="44.4" height="14.2" fill="#a00000" stroke="#000" stroke-width="3.6"/>
<text x="452.8" y="1072.8" font-size="31.2" textLength="432.1" lengthAdjust="spacingAndGlyphs">CT26/CD73&#160; tumor (CD73 IgG)</text>
<rect x="379.6" y="1096.8" width="44.4" height="14.2" fill="#a2a1a6" stroke="#000" stroke-width="3.6"/>
<text x="452.8" y="1113.4" font-size="31.2" textLength="442.8" lengthAdjust="spacingAndGlyphs">CT26/CD73 tumor (Isotype IgG)</text>
<path d="M193.4,1458.6V1437.1M184.8,1437.1H202" stroke="#000" stroke-width="2.4" fill="none"/>
<rect x="177.7" y="1458.9" width="31.4" height="57.4" fill="#fff" stroke="#000" stroke-width="4.6"/>
<path d="M263.8,1178.2V1092.9M255.2,1092.9H272.4" stroke="#000" stroke-width="2.4" fill="none"/>
<rect x="248.1" y="1178.5" width="31.4" height="337.8" fill="#a2a1a6" stroke="#000" stroke-width="4.6"/>
<path d="M228.6,1449.5V1437.1M220,1437.1H237.2" stroke="#000" stroke-width="2.4" fill="none"/>
<rect x="212.9" y="1449.8" width="31.4" height="66.5" fill="#a00000" stroke="#000" stroke-width="4.6"/>
<path d="M334.4,1485.3V1474M325.8,1474H343" stroke="#000" stroke-width="2.4" fill="none"/>
<rect x="318.7" y="1485.6" width="31.4" height="30.7" fill="#fff" stroke="#000" stroke-width="4.6"/>
<path d="M404.8,1460.6V1443.2M396.2,1443.2H413.4" stroke="#000" stroke-width="2.4" fill="none"/>
<rect x="389.1" y="1460.9" width="31.4" height="55.4" fill="#a2a1a6" stroke="#000" stroke-width="4.6"/>
<path d="M369.6,1473.4V1463.9M361,1463.9H378.2" stroke="#000" stroke-width="2.4" fill="none"/>
<rect x="353.9" y="1473.7" width="31.4" height="42.6" fill="#a00000" stroke="#000" stroke-width="4.6"/>
<path d="M475.5,1473.4V1450.1M466.9,1450.1H484.1" stroke="#000" stroke-width="2.4" fill="none"/>
<rect x="459.8" y="1473.7" width="31.4" height="42.6" fill="#fff" stroke="#000" stroke-width="4.6"/>
<path d="M545.9,1401.9V1362.6M537.3,1362.6H554.5" stroke="#000" stroke-width="2.4" fill="none"/>
<rect x="530.2" y="1402.2" width="31.4" height="114.1" fill="#a2a1a6" stroke="#000" stroke-width="4.6"/>
<path d="M510.7,1457V1436.1M502.1,1436.1H519.3" stroke="#000" stroke-width="2.4" fill="none"/>
<rect x="495" y="1457.3" width="31.4" height="59" fill="#a00000" stroke="#000" stroke-width="4.6"/>
<path d="M616.5,1342.7V1325.7M607.9,1325.7H625.1" stroke="#000" stroke-width="2.4" fill="none"/>
<rect x="600.8" y="1343" width="31.4" height="173.3" fill="#fff" stroke="#000" stroke-width="4.6"/>
<path d="M686.9,1430.6V1412.2M678.3,1412.2H695.5" stroke="#000" stroke-width="2.4" fill="none"/>
<rect x="671.2" y="1430.9" width="31.4" height="85.4" fill="#a2a1a6" stroke="#000" stroke-width="4.6"/>
<path d="M651.7,1275.3V1243.8M643.1,1243.8H660.3" stroke="#000" stroke-width="2.4" fill="none"/>
<rect x="636" y="1275.6" width="31.4" height="240.7" fill="#a00000" stroke="#000" stroke-width="4.6"/>
<path d="M757.6,1408.6V1363.6M749,1363.6H766.2" stroke="#000" stroke-width="2.4" fill="none"/>
<rect x="741.9" y="1408.9" width="31.4" height="107.4" fill="#fff" stroke="#000" stroke-width="4.6"/>
<path d="M828,1427.4V1397.8M819.4,1397.8H836.6" stroke="#000" stroke-width="2.4" fill="none"/>
<rect x="812.3" y="1427.7" width="31.4" height="88.6" fill="#a2a1a6" stroke="#000" stroke-width="4.6"/>
<path d="M792.8,1348.8V1291.1M784.2,1291.1H801.4" stroke="#000" stroke-width="2.4" fill="none"/>
<rect x="777.1" y="1349.1" width="31.4" height="167.2" fill="#a00000" stroke="#000" stroke-width="4.6"/>
<path d="M898.6,1479.4V1461.2M890,1461.2H907.2" stroke="#000" stroke-width="2.4" fill="none"/>
<rect x="882.9" y="1479.7" width="31.4" height="36.6" fill="#fff" stroke="#000" stroke-width="4.6"/>
<path d="M969,1479.4V1467.3M960.4,1467.3H977.6" stroke="#000" stroke-width="2.4" fill="none"/>
<rect x="953.3" y="1479.7" width="31.4" height="36.6" fill="#a2a1a6" stroke="#000" stroke-width="4.6"/>
<path d="M933.8,1475.8V1471.2M925.2,1471.2H942.4" stroke="#000" stroke-width="2.4" fill="none"/>
<rect x="918.1" y="1476.1" width="31.4" height="40.2" fill="#a00000" stroke="#000" stroke-width="4.6"/>
<path d="M1039.6,1201.4V1152.3M1031,1152.3H1048.2" stroke="#000" stroke-width="2.4" fill="none"/>
<rect x="1023.9" y="1201.7" width="31.4" height="314.6" fill="#fff" stroke="#000" stroke-width="4.6"/>
<path d="M1110,1329V1288.7M1101.4,1288.7H1118.6" stroke="#000" stroke-width="2.4" fill="none"/>
<rect x="1094.3" y="1329.3" width="31.4" height="187" fill="#a2a1a6" stroke="#000" stroke-width="4.6"/>
<path d="M1074.8,1155.8V1063.2M1066.2,1063.2H1083.4" stroke="#000" stroke-width="2.4" fill="none"/>
<rect x="1059.1" y="1156.1" width="31.4" height="360.2" fill="#a00000" stroke="#000" stroke-width="4.6"/>
<path d="M1180.7,1485.3V1473M1172.1,1473H1189.3" stroke="#000" stroke-width="2.4" fill="none"/>
<rect x="1165" y="1485.6" width="31.4" height="30.7" fill="#fff" stroke="#000" stroke-width="4.6"/>
<path d="M1251.1,1492.4V1485.1M1242.5,1485.1H1259.7" stroke="#000" stroke-width="2.4" fill="none"/>
<rect x="1235.4" y="1492.7" width="31.4" height="23.6" fill="#a2a1a6" stroke="#000" stroke-width="4.6"/>
<path d="M1215.9,1479.4V1476M1207.3,1476H1224.5" stroke="#000" stroke-width="2.4" fill="none"/>
<rect x="1200.2" y="1479.7" width="31.4" height="36.6" fill="#a00000" stroke="#000" stroke-width="4.6"/>
<path d="M1321.7,1439.3V1416.3M1313.1,1416.3H1330.3" stroke="#000" stroke-width="2.4" fill="none"/>
<rect x="1306" y="1439.6" width="31.4" height="76.7" fill="#fff" stroke="#000" stroke-width="4.6"/>
<path d="M1392.1,1357.7V1317.4M1383.5,1317.4H1400.7" stroke="#000" stroke-width="2.4" fill="none"/>
<rect x="1376.4" y="1358" width="31.4" height="158.3" fill="#a2a1a6" stroke="#000" stroke-width="4.6"/>
<path d="M1356.9,1334V1286.2M1348.3,1286.2H1365.5" stroke="#000" stroke-width="2.4" fill="none"/>
<rect x="1341.2" y="1334.3" width="31.4" height="182" fill="#a00000" stroke="#000" stroke-width="4.6"/>
<path d="M158.5,1035.6V1518.7" stroke="#000" stroke-width="4.8" fill="none"/>
<path d="M139.8,1516.3H1428.7" stroke="#000" stroke-width="4.9" fill="none"/>
<text x="117.3" y="1528.3" font-size="36.6" font-weight="bold" textLength="18.8" lengthAdjust="spacingAndGlyphs">0</text>
<path d="M139.8,1420.6H158.5" stroke="#000" stroke-width="4.9" fill="none"/>
<text x="117.3" y="1432.6" font-size="36.6" font-weight="bold" textLength="18.8" lengthAdjust="spacingAndGlyphs">2</text>
<path d="M139.8,1325H158.5" stroke="#000" stroke-width="4.9" fill="none"/>
<text x="117.3" y="1337" font-size="36.6" font-weight="bold" textLength="18.8" lengthAdjust="spacingAndGlyphs">4</text>
<path d="M139.8,1229.3H158.5" stroke="#000" stroke-width="4.9" fill="none"/>
<text x="117.3" y="1241.3" font-size="36.6" font-weight="bold" textLength="18.8" lengthAdjust="spacingAndGlyphs">6</text>
<path d="M139.8,1133.7H158.5" stroke="#000" stroke-width="4.9" fill="none"/>
<text x="117.3" y="1145.7" font-size="36.6" font-weight="bold" textLength="18.8" lengthAdjust="spacingAndGlyphs">8</text>
<path d="M139.8,1038H158.5" stroke="#000" stroke-width="4.9" fill="none"/>
<text x="98.5" y="1050" font-size="36.6" font-weight="bold" textLength="37.6" lengthAdjust="spacingAndGlyphs">10</text>
<path d="M227.9,1516.3V1536.3" stroke="#000" stroke-width="4.8" fill="none"/>
<text x="179.2" y="1571.7" font-size="35.3" font-weight="bold" textLength="97.2" lengthAdjust="spacingAndGlyphs">Blood</text>
<path d="M368.9,1516.3V1536.3" stroke="#000" stroke-width="4.8" fill="none"/>
<text x="325" y="1571.7" font-size="35.3" font-weight="bold" textLength="87.7" lengthAdjust="spacingAndGlyphs">Heart</text>
<path d="M510,1516.3V1536.3" stroke="#000" stroke-width="4.8" fill="none"/>
<text x="468" y="1571.7" font-size="35.3" font-weight="bold" textLength="83.8" lengthAdjust="spacingAndGlyphs">Lung</text>
<path d="M651,1516.3V1536.3" stroke="#000" stroke-width="4.8" fill="none"/>
<text x="609.9" y="1571.7" font-size="35.3" font-weight="bold" textLength="82" lengthAdjust="spacingAndGlyphs">Liver</text>
<path d="M792.1,1516.3V1536.3" stroke="#000" stroke-width="4.8" fill="none"/>
<text x="735.7" y="1571.7" font-size="35.3" font-weight="bold" textLength="112.5" lengthAdjust="spacingAndGlyphs">Spleen</text>
<path d="M933.1,1516.3V1536.3" stroke="#000" stroke-width="4.8" fill="none"/>
<text x="860.6" y="1571.7" font-size="35.3" font-weight="bold" textLength="144.9" lengthAdjust="spacingAndGlyphs">Stomach</text>
<path d="M1074.1,1516.3V1536.3" stroke="#000" stroke-width="4.8" fill="none"/>
<text x="1016.9" y="1571.7" font-size="35.3" font-weight="bold" textLength="114.4" lengthAdjust="spacingAndGlyphs">Kidney</text>
<path d="M1215.2,1516.3V1536.3" stroke="#000" stroke-width="4.8" fill="none"/>
<text x="1156.9" y="1571.7" font-size="35.3" font-weight="bold" textLength="116.3" lengthAdjust="spacingAndGlyphs">Muscle</text>
<path d="M1356.2,1516.3V1536.3" stroke="#000" stroke-width="4.8" fill="none"/>
<text x="1304" y="1571.7" font-size="35.3" font-weight="bold" textLength="104.2" lengthAdjust="spacingAndGlyphs">Tumor</text>
<path d="M1309.5,1342.8V1205.7H1353.8V1250.6" stroke="#000" stroke-width="2" fill="none"/>
<text x="1285.6" y="1178" font-size="28.4" textLength="119.5" lengthAdjust="spacingAndGlyphs"><tspan font-style="italic">p</tspan> = 0.002</text>
</g>
<g id="panelC">
<text x="1480.6" y="992.3" font-size="73.9" font-weight="bold" textLength="50.5" lengthAdjust="spacingAndGlyphs">C</text>
<rect x="1484.2" y="1024.5" width="44.1" height="13" fill="#fff" stroke="#000" stroke-width="3.6"/>
<text x="1556" y="1040.2" font-size="30.5" textLength="323.2" lengthAdjust="spacingAndGlyphs">CT26 tumor (CD73 IgG)</text>
<rect x="1484.2" y="1064.4" width="44.1" height="13" fill="#a00000" stroke="#000" stroke-width="3.6"/>
<text x="1556" y="1079.8" font-size="30.5" textLength="408.7" lengthAdjust="spacingAndGlyphs">CT26/CD73 tumor (CD73 IgG)</text>
<rect x="1484.2" y="1104.1" width="44.1" height="13" fill="#808080" stroke="#000" stroke-width="3.6"/>
<text x="1556" y="1119.7" font-size="30.5" textLength="428.1" lengthAdjust="spacingAndGlyphs">CT26/CD73 tumor (Isotype IgG)</text>
<text transform="translate(1545.3 1550) rotate(-90)" x="0" y="0" font-size="37.3" font-weight="bold" textLength="365" lengthAdjust="spacingAndGlyphs">Tumor-to-blood ratio</text>
<path d="M1671.2,1426V1411.9M1655.7,1411.9H1686.7" stroke="#000" stroke-width="2.4" fill="none"/>
<rect x="1641.5" y="1426.3" width="59.3" height="124.9" fill="#fff" stroke="#000" stroke-width="4.7"/>
<path d="M1753.4,1303.5V1254.5M1737.9,1254.5H1768.9" stroke="#000" stroke-width="2.4" fill="none"/>
<rect x="1723.8" y="1303.8" width="59.3" height="247.4" fill="#a00000" stroke="#000" stroke-width="4.7"/>
<path d="M1835.8,1509V1501.3M1820.3,1501.3H1851.3" stroke="#000" stroke-width="2.4" fill="none"/>
<rect x="1806.1" y="1509.3" width="59.3" height="41.9" fill="#808080" stroke="#000" stroke-width="4.7"/>
<path d="M1607.7,1175.8V1553.6" stroke="#000" stroke-width="4.7" fill="none"/>
<path d="M1590.5,1551.3H1901" stroke="#000" stroke-width="4.7" fill="none"/>
<text x="1566.2" y="1563.3" font-size="36.6" font-weight="bold" textLength="18.8" lengthAdjust="spacingAndGlyphs">0</text>
<path d="M1590.5,1458H1607.7" stroke="#000" stroke-width="4.7" fill="none"/>
<text x="1566.2" y="1470" font-size="36.6" font-weight="bold" textLength="18.8" lengthAdjust="spacingAndGlyphs">1</text>
<path d="M1590.5,1364.7H1607.7" stroke="#000" stroke-width="4.7" fill="none"/>
<text x="1566.2" y="1376.7" font-size="36.6" font-weight="bold" textLength="18.8" lengthAdjust="spacingAndGlyphs">2</text>
<path d="M1590.5,1271.5H1607.7" stroke="#000" stroke-width="4.7" fill="none"/>
<text x="1566.2" y="1283.5" font-size="36.6" font-weight="bold" textLength="18.8" lengthAdjust="spacingAndGlyphs">3</text>
<path d="M1590.5,1178.2H1607.7" stroke="#000" stroke-width="4.7" fill="none"/>
<text x="1566.2" y="1190.2" font-size="36.6" font-weight="bold" textLength="18.8" lengthAdjust="spacingAndGlyphs">4</text>
<path d="M1670.7,1551.3V1570.4" stroke="#000" stroke-width="4.7" fill="none"/>
<path d="M1752.9,1551.3V1570.4" stroke="#000" stroke-width="4.7" fill="none"/>
<path d="M1835.6,1551.3V1570.4" stroke="#000" stroke-width="4.7" fill="none"/>
<path d="M1656.5,1350.2V1213.4H1746.4V1236.6" stroke="#000" stroke-width="1.8" fill="none"/>
<path d="M1760.4,1234.7V1213.8H1845.9V1386.4" stroke="#000" stroke-width="1.8" fill="none"/>
<text x="1632.8" y="1192.3" font-size="28.4" textLength="113.2" lengthAdjust="spacingAndGlyphs"><tspan font-style="italic">p</tspan> &lt; 0.001</text>
<text x="1763.6" y="1192.3" font-size="28.4" textLength="113.8" lengthAdjust="spacingAndGlyphs"><tspan font-style="italic">p</tspan> &lt; 0.001</text>
</g>
</svg>
</body>
</html>
